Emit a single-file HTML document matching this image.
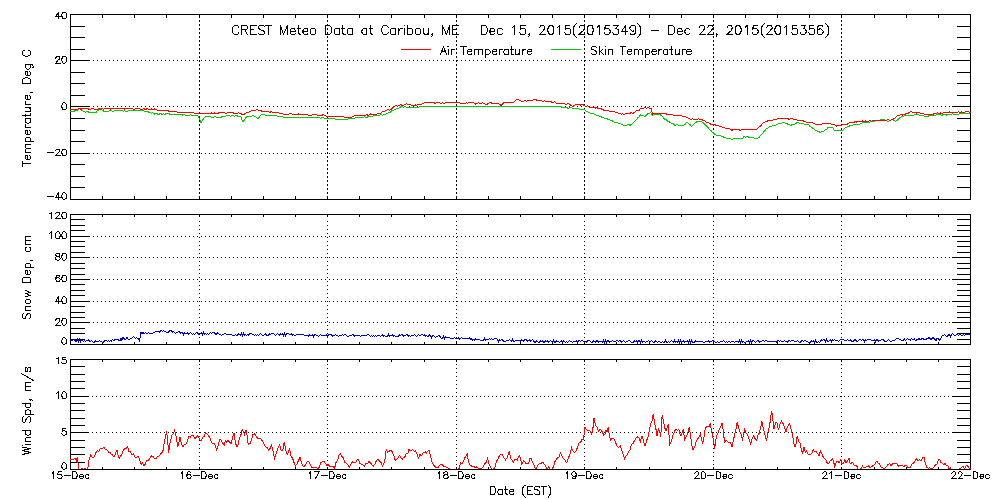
<!DOCTYPE html><html><head><meta charset="utf-8"><style>html,body{margin:0;padding:0;background:#fff;width:1000px;height:500px;overflow:hidden}svg{display:block}</style></head><body>
<svg width="1000" height="500" viewBox="0 0 1000 500" shape-rendering="crispEdges">
<rect x="0" y="0" width="1000" height="500" fill="#fff"/>
<path d="M93.0 153.5 H951.0" stroke="#000" stroke-width="1" fill="none" stroke-dasharray="1 3"/>
<path d="M93.0 106.5 H951.0" stroke="#000" stroke-width="1" fill="none" stroke-dasharray="1 3"/>
<path d="M93.0 60.5 H951.0" stroke="#000" stroke-width="1" fill="none" stroke-dasharray="1 3"/>
<path d="M199.5 20 V196" stroke="#000" stroke-width="1" fill="none" stroke-dasharray="2 2"/>
<path d="M327.5 20 V196" stroke="#000" stroke-width="1" fill="none" stroke-dasharray="2 2"/>
<path d="M456.5 20 V196" stroke="#000" stroke-width="1" fill="none" stroke-dasharray="2 2"/>
<path d="M584.5 20 V196" stroke="#000" stroke-width="1" fill="none" stroke-dasharray="2 2"/>
<path d="M713.5 20 V196" stroke="#000" stroke-width="1" fill="none" stroke-dasharray="2 2"/>
<path d="M841.5 20 V196" stroke="#000" stroke-width="1" fill="none" stroke-dasharray="2 2"/>
<path d="M93.0 322.5 H951.0" stroke="#000" stroke-width="1" fill="none" stroke-dasharray="1 3"/>
<path d="M93.0 301.5 H951.0" stroke="#000" stroke-width="1" fill="none" stroke-dasharray="1 3"/>
<path d="M93.0 279.5 H951.0" stroke="#000" stroke-width="1" fill="none" stroke-dasharray="1 3"/>
<path d="M93.0 257.5 H951.0" stroke="#000" stroke-width="1" fill="none" stroke-dasharray="1 3"/>
<path d="M93.0 236.5 H951.0" stroke="#000" stroke-width="1" fill="none" stroke-dasharray="1 3"/>
<path d="M199.5 221 V342" stroke="#000" stroke-width="1" fill="none" stroke-dasharray="1 3"/>
<path d="M327.5 221 V342" stroke="#000" stroke-width="1" fill="none" stroke-dasharray="1 3"/>
<path d="M456.5 221 V342" stroke="#000" stroke-width="1" fill="none" stroke-dasharray="1 3"/>
<path d="M584.5 221 V342" stroke="#000" stroke-width="1" fill="none" stroke-dasharray="1 3"/>
<path d="M713.5 221 V342" stroke="#000" stroke-width="1" fill="none" stroke-dasharray="1 3"/>
<path d="M841.5 221 V342" stroke="#000" stroke-width="1" fill="none" stroke-dasharray="1 3"/>
<path d="M92.0 432.5 H951.0" stroke="#000" stroke-width="1" fill="none" stroke-dasharray="1 3"/>
<path d="M92.0 396.5 H951.0" stroke="#000" stroke-width="1" fill="none" stroke-dasharray="1 3"/>
<path d="M199.5 364 V467" stroke="#000" stroke-width="1" fill="none" stroke-dasharray="1 3"/>
<path d="M327.5 364 V467" stroke="#000" stroke-width="1" fill="none" stroke-dasharray="1 3"/>
<path d="M456.5 364 V467" stroke="#000" stroke-width="1" fill="none" stroke-dasharray="1 3"/>
<path d="M584.5 364 V467" stroke="#000" stroke-width="1" fill="none" stroke-dasharray="1 3"/>
<path d="M713.5 364 V467" stroke="#000" stroke-width="1" fill="none" stroke-dasharray="1 3"/>
<path d="M841.5 364 V467" stroke="#000" stroke-width="1" fill="none" stroke-dasharray="1 3"/>
<path d="M47.50 196.50 L53.50 196.50 M58.50 192.50 L55.50 197.50 L60.50 197.50 M58.50 192.50 L58.50 199.50 M63.50 192.50 L62.50 193.50 L62.50 194.50 L61.50 195.50 L61.50 196.50 L62.50 198.50 L63.50 199.50 L64.50 199.50 L65.50 198.50 L66.50 198.50 L66.50 196.50 L66.50 195.50 L66.50 194.50 L65.50 193.50 L64.50 192.50 L63.50 192.50 M47.50 152.50 L53.50 152.50 M55.50 150.50 L56.50 149.50 L57.50 149.50 L58.50 149.50 L59.50 149.50 L59.50 150.50 L59.50 151.50 L58.50 152.50 L55.50 155.50 L60.50 155.50 M63.50 149.50 L62.50 149.50 L62.50 150.50 L61.50 151.50 L61.50 152.50 L62.50 154.50 L62.50 155.50 L63.50 155.50 L64.50 155.50 L65.50 155.50 L66.50 154.50 L66.50 152.50 L66.50 151.50 L66.50 150.50 L65.50 149.50 L64.50 149.50 L63.50 149.50 M63.50 102.50 L62.50 103.50 L62.50 104.50 L61.50 105.50 L61.50 106.50 L62.50 108.50 L62.50 109.50 L63.50 109.50 L64.50 109.50 L65.50 109.50 L66.50 108.50 L66.50 106.50 L66.50 105.50 L66.50 104.50 L65.50 103.50 L64.50 102.50 L63.50 102.50 M55.50 58.50 L55.50 57.50 L56.50 57.50 L56.50 56.50 L57.50 56.50 L58.50 56.50 L59.50 56.50 L59.50 57.50 L59.50 58.50 L59.50 59.50 L58.50 59.50 L55.50 63.50 L60.50 63.50 M63.50 56.50 L62.50 56.50 L62.50 57.50 L61.50 59.50 L61.50 60.50 L62.50 61.50 L62.50 62.50 L63.50 63.50 L64.50 63.50 L65.50 62.50 L66.50 61.50 L66.50 60.50 L66.50 59.50 L66.50 57.50 L65.50 56.50 L64.50 56.50 L63.50 56.50 M58.50 12.50 L55.50 16.50 L60.50 16.50 M58.50 12.50 L58.50 18.50 M63.50 12.50 L62.50 12.50 L62.50 13.50 L61.50 14.50 L61.50 15.50 L62.50 17.50 L62.50 18.50 L63.50 18.50 L64.50 18.50 L65.50 18.50 L66.50 17.50 L66.50 15.50 L66.50 14.50 L66.50 13.50 L65.50 12.50 L64.50 12.50 L63.50 12.50 M63.50 337.50 L62.50 338.50 L62.50 339.50 L61.50 340.50 L61.50 341.50 L62.50 343.50 L63.50 344.50 L64.50 344.50 L65.50 343.50 L66.50 343.50 L66.50 341.50 L66.50 340.50 L66.50 339.50 L65.50 338.50 L64.50 337.50 L63.50 337.50 M55.50 320.50 L55.50 319.50 L56.50 319.50 L56.50 318.50 L57.50 318.50 L58.50 318.50 L59.50 318.50 L59.50 319.50 L59.50 320.50 L59.50 321.50 L58.50 322.50 L55.50 325.50 L60.50 325.50 M63.50 318.50 L62.50 318.50 L62.50 319.50 L61.50 321.50 L61.50 322.50 L62.50 323.50 L62.50 324.50 L63.50 325.50 L64.50 325.50 L65.50 324.50 L66.50 323.50 L66.50 322.50 L66.50 321.50 L66.50 319.50 L65.50 318.50 L64.50 318.50 L63.50 318.50 M58.50 296.50 L55.50 301.50 L60.50 301.50 M58.50 296.50 L58.50 303.50 M63.50 296.50 L62.50 297.50 L62.50 298.50 L61.50 299.50 L61.50 300.50 L62.50 302.50 L62.50 303.50 L63.50 303.50 L64.50 303.50 L65.50 303.50 L66.50 302.50 L66.50 300.50 L66.50 299.50 L66.50 298.50 L65.50 297.50 L64.50 296.50 L63.50 296.50 M59.50 276.50 L59.50 275.50 L58.50 275.50 L57.50 275.50 L56.50 275.50 L56.50 276.50 L55.50 278.50 L55.50 279.50 L56.50 280.50 L56.50 281.50 L57.50 281.50 L58.50 281.50 L59.50 281.50 L59.50 280.50 L60.50 279.50 L59.50 278.50 L58.50 277.50 L57.50 277.50 L56.50 278.50 L55.50 279.50 M63.50 275.50 L62.50 275.50 L62.50 276.50 L61.50 278.50 L61.50 279.50 L62.50 280.50 L62.50 281.50 L63.50 281.50 L64.50 281.50 L65.50 281.50 L66.50 280.50 L66.50 279.50 L66.50 278.50 L66.50 276.50 L65.50 275.50 L64.50 275.50 L63.50 275.50 M57.50 253.50 L56.50 253.50 L55.50 254.50 L55.50 255.50 L56.50 255.50 L56.50 256.50 L58.50 256.50 L59.50 256.50 L59.50 257.50 L60.50 258.50 L59.50 259.50 L58.50 260.50 L57.50 260.50 L56.50 259.50 L55.50 259.50 L55.50 258.50 L55.50 257.50 L56.50 256.50 L57.50 256.50 L58.50 256.50 L59.50 255.50 L59.50 254.50 L59.50 253.50 L58.50 253.50 L57.50 253.50 M63.50 253.50 L62.50 253.50 L62.50 254.50 L61.50 256.50 L61.50 257.50 L62.50 258.50 L62.50 259.50 L63.50 260.50 L64.50 260.50 L65.50 259.50 L66.50 258.50 L66.50 257.50 L66.50 256.50 L66.50 254.50 L65.50 253.50 L64.50 253.50 L63.50 253.50 M49.50 233.50 L50.50 232.50 L51.50 231.50 L51.50 238.50 M57.50 231.50 L56.50 232.50 L55.50 233.50 L55.50 234.50 L55.50 235.50 L55.50 237.50 L56.50 238.50 L57.50 238.50 L58.50 238.50 L59.50 238.50 L59.50 237.50 L60.50 235.50 L60.50 234.50 L59.50 233.50 L59.50 232.50 L58.50 231.50 L57.50 231.50 M63.50 231.50 L62.50 232.50 L62.50 233.50 L61.50 234.50 L61.50 235.50 L62.50 237.50 L62.50 238.50 L63.50 238.50 L64.50 238.50 L65.50 238.50 L66.50 237.50 L66.50 235.50 L66.50 234.50 L66.50 233.50 L65.50 232.50 L64.50 231.50 L63.50 231.50 M49.50 213.50 L50.50 213.50 L51.50 212.50 L51.50 218.50 M55.50 213.50 L56.50 212.50 L57.50 212.50 L58.50 212.50 L59.50 212.50 L59.50 213.50 L59.50 214.50 L58.50 215.50 L55.50 218.50 L60.50 218.50 M63.50 212.50 L62.50 212.50 L62.50 213.50 L61.50 214.50 L61.50 215.50 L62.50 217.50 L62.50 218.50 L63.50 218.50 L64.50 218.50 L65.50 218.50 L66.50 217.50 L66.50 215.50 L66.50 214.50 L66.50 213.50 L65.50 212.50 L64.50 212.50 L63.50 212.50 M63.50 462.50 L62.50 463.50 L62.50 464.50 L61.50 465.50 L61.50 466.50 L62.50 468.50 L63.50 469.50 L64.50 469.50 L65.50 468.50 L66.50 468.50 L66.50 466.50 L66.50 465.50 L66.50 464.50 L65.50 463.50 L64.50 462.50 L63.50 462.50 M65.50 428.50 L62.50 428.50 L62.50 431.50 L63.50 430.50 L64.50 430.50 L65.50 431.50 L66.50 431.50 L66.50 432.50 L66.50 433.50 L66.50 434.50 L65.50 434.50 L64.50 435.50 L63.50 435.50 L62.50 434.50 L61.50 433.50 M56.50 393.50 L57.50 392.50 L58.50 391.50 L58.50 398.50 M63.50 391.50 L62.50 392.50 L62.50 393.50 L61.50 394.50 L61.50 395.50 L62.50 397.50 L62.50 398.50 L63.50 398.50 L64.50 398.50 L65.50 398.50 L66.50 397.50 L66.50 395.50 L66.50 394.50 L66.50 393.50 L65.50 392.50 L64.50 391.50 L63.50 391.50 M56.50 358.50 L57.50 358.50 L58.50 357.50 L58.50 363.50 M65.50 357.50 L62.50 357.50 L62.50 359.50 L63.50 359.50 L64.50 359.50 L65.50 359.50 L66.50 360.50 L66.50 361.50 L66.50 362.50 L65.50 363.50 L64.50 363.50 L63.50 363.50 L62.50 363.50 L61.50 362.50 M52.50 473.50 L52.50 472.50 L53.50 471.50 L53.50 478.50 M61.50 471.50 L58.50 471.50 L57.50 474.50 L58.50 474.50 L59.50 474.50 L60.50 474.50 L61.50 474.50 L61.50 475.50 L62.50 476.50 L61.50 477.50 L61.50 478.50 L60.50 478.50 L59.50 478.50 L58.50 478.50 L57.50 477.50 M64.50 475.50 L70.50 475.50 M72.50 471.50 L72.50 478.50 M72.50 471.50 L75.50 471.50 L76.50 472.50 L76.50 473.50 L77.50 474.50 L77.50 476.50 L76.50 476.50 L76.50 477.50 L76.50 478.50 L75.50 478.50 L72.50 478.50 M79.50 476.50 L83.50 476.50 L83.50 475.50 L82.50 474.50 L81.50 474.50 L80.50 474.50 L79.50 475.50 L79.50 476.50 L79.50 477.50 L80.50 478.50 L81.50 478.50 L82.50 478.50 L83.50 477.50 M88.50 475.50 L88.50 474.50 L87.50 474.50 L86.50 474.50 L85.50 475.50 L85.50 476.50 L85.50 477.50 L86.50 478.50 L87.50 478.50 L88.50 478.50 L88.50 477.50 M181.50 473.50 L181.50 472.50 L182.50 471.50 L182.50 478.50 M190.50 472.50 L189.50 471.50 L188.50 471.50 L187.50 472.50 L187.50 473.50 L186.50 474.50 L186.50 476.50 L187.50 477.50 L187.50 478.50 L188.50 478.50 L189.50 478.50 L190.50 478.50 L190.50 477.50 L191.50 476.50 L190.50 475.50 L190.50 474.50 L189.50 474.50 L188.50 474.50 L187.50 474.50 L187.50 475.50 L186.50 476.50 M193.50 475.50 L199.50 475.50 M201.50 471.50 L201.50 478.50 M201.50 471.50 L204.50 471.50 L205.50 472.50 L205.50 473.50 L206.50 474.50 L206.50 476.50 L205.50 476.50 L205.50 477.50 L205.50 478.50 L204.50 478.50 L201.50 478.50 M208.50 476.50 L212.50 476.50 L212.50 475.50 L211.50 474.50 L210.50 474.50 L209.50 474.50 L208.50 475.50 L208.50 476.50 L208.50 477.50 L209.50 478.50 L210.50 478.50 L211.50 478.50 L212.50 477.50 M217.50 475.50 L217.50 474.50 L216.50 474.50 L215.50 474.50 L214.50 475.50 L214.50 476.50 L214.50 477.50 L215.50 478.50 L216.50 478.50 L217.50 478.50 L217.50 477.50 M309.50 473.50 L309.50 472.50 L310.50 471.50 L310.50 478.50 M319.50 471.50 L315.50 478.50 M314.50 471.50 L319.50 471.50 M321.50 475.50 L327.50 475.50 M329.50 471.50 L329.50 478.50 M329.50 471.50 L332.50 471.50 L333.50 472.50 L333.50 473.50 L334.50 474.50 L334.50 476.50 L333.50 476.50 L333.50 477.50 L333.50 478.50 L332.50 478.50 L329.50 478.50 M336.50 476.50 L340.50 476.50 L340.50 475.50 L339.50 474.50 L338.50 474.50 L337.50 474.50 L336.50 475.50 L336.50 476.50 L336.50 477.50 L337.50 478.50 L338.50 478.50 L339.50 478.50 L340.50 477.50 M345.50 475.50 L345.50 474.50 L344.50 474.50 L343.50 474.50 L342.50 475.50 L342.50 476.50 L342.50 477.50 L343.50 478.50 L344.50 478.50 L345.50 478.50 L345.50 477.50 M438.50 473.50 L438.50 472.50 L439.50 471.50 L439.50 478.50 M445.50 471.50 L444.50 472.50 L443.50 472.50 L443.50 473.50 L444.50 474.50 L446.50 474.50 L447.50 475.50 L448.50 476.50 L448.50 477.50 L447.50 477.50 L447.50 478.50 L446.50 478.50 L445.50 478.50 L444.50 478.50 L443.50 477.50 L443.50 476.50 L443.50 475.50 L444.50 475.50 L445.50 474.50 L446.50 474.50 L447.50 474.50 L447.50 473.50 L447.50 472.50 L446.50 471.50 L445.50 471.50 M450.50 475.50 L456.50 475.50 M458.50 471.50 L458.50 478.50 M458.50 471.50 L461.50 471.50 L462.50 472.50 L462.50 473.50 L463.50 474.50 L463.50 476.50 L462.50 476.50 L462.50 477.50 L462.50 478.50 L461.50 478.50 L458.50 478.50 M465.50 476.50 L469.50 476.50 L469.50 475.50 L468.50 474.50 L467.50 474.50 L466.50 474.50 L465.50 475.50 L465.50 476.50 L465.50 477.50 L466.50 478.50 L467.50 478.50 L468.50 478.50 L469.50 477.50 M474.50 475.50 L474.50 474.50 L473.50 474.50 L472.50 474.50 L471.50 475.50 L471.50 476.50 L471.50 477.50 L472.50 478.50 L473.50 478.50 L474.50 478.50 L474.50 477.50 M566.50 473.50 L566.50 472.50 L567.50 471.50 L567.50 478.50 M576.50 474.50 L575.50 475.50 L574.50 476.50 L573.50 476.50 L572.50 475.50 L571.50 474.50 L571.50 473.50 L572.50 472.50 L573.50 471.50 L574.50 471.50 L575.50 472.50 L576.50 474.50 L576.50 475.50 L575.50 477.50 L575.50 478.50 L574.50 478.50 L573.50 478.50 L572.50 478.50 L572.50 477.50 M578.50 475.50 L584.50 475.50 M586.50 471.50 L586.50 478.50 M586.50 471.50 L589.50 471.50 L590.50 472.50 L590.50 473.50 L591.50 474.50 L591.50 476.50 L590.50 476.50 L590.50 477.50 L590.50 478.50 L589.50 478.50 L586.50 478.50 M593.50 476.50 L597.50 476.50 L597.50 475.50 L596.50 474.50 L595.50 474.50 L594.50 474.50 L593.50 475.50 L593.50 476.50 L593.50 477.50 L594.50 478.50 L595.50 478.50 L596.50 478.50 L597.50 477.50 M602.50 475.50 L602.50 474.50 L601.50 474.50 L600.50 474.50 L599.50 475.50 L599.50 476.50 L599.50 477.50 L600.50 478.50 L601.50 478.50 L602.50 478.50 L602.50 477.50 M694.50 473.50 L695.50 472.50 L696.50 471.50 L697.50 471.50 L698.50 472.50 L698.50 473.50 L698.50 474.50 L697.50 475.50 L694.50 478.50 L699.50 478.50 M702.50 471.50 L701.50 472.50 L701.50 473.50 L701.50 474.50 L701.50 475.50 L701.50 477.50 L701.50 478.50 L702.50 478.50 L703.50 478.50 L704.50 478.50 L705.50 477.50 L705.50 475.50 L705.50 474.50 L705.50 473.50 L704.50 472.50 L703.50 471.50 L702.50 471.50 M707.50 475.50 L713.50 475.50 M716.50 471.50 L716.50 478.50 M716.50 471.50 L718.50 471.50 L719.50 472.50 L720.50 472.50 L720.50 473.50 L720.50 474.50 L720.50 476.50 L720.50 477.50 L719.50 478.50 L718.50 478.50 L716.50 478.50 M722.50 476.50 L726.50 476.50 L726.50 475.50 L726.50 474.50 L725.50 474.50 L724.50 474.50 L723.50 474.50 L723.50 475.50 L722.50 476.50 L723.50 477.50 L723.50 478.50 L724.50 478.50 L725.50 478.50 L726.50 477.50 M732.50 475.50 L731.50 474.50 L730.50 474.50 L729.50 474.50 L728.50 475.50 L728.50 476.50 L728.50 477.50 L729.50 478.50 L730.50 478.50 L731.50 478.50 L732.50 477.50 M822.50 473.50 L823.50 472.50 L824.50 471.50 L825.50 471.50 L826.50 472.50 L826.50 473.50 L826.50 474.50 L825.50 475.50 L822.50 478.50 L827.50 478.50 M829.50 473.50 L830.50 472.50 L831.50 471.50 L831.50 478.50 M835.50 475.50 L841.50 475.50 M844.50 471.50 L844.50 478.50 M844.50 471.50 L846.50 471.50 L847.50 472.50 L848.50 472.50 L848.50 473.50 L848.50 474.50 L848.50 476.50 L848.50 477.50 L847.50 478.50 L846.50 478.50 L844.50 478.50 M850.50 476.50 L854.50 476.50 L854.50 475.50 L854.50 474.50 L853.50 474.50 L852.50 474.50 L851.50 474.50 L851.50 475.50 L850.50 476.50 L851.50 477.50 L851.50 478.50 L852.50 478.50 L853.50 478.50 L854.50 477.50 M860.50 475.50 L859.50 474.50 L858.50 474.50 L857.50 474.50 L856.50 475.50 L856.50 476.50 L856.50 477.50 L857.50 478.50 L858.50 478.50 L859.50 478.50 L860.50 477.50 M951.50 473.50 L952.50 472.50 L953.50 471.50 L954.50 471.50 L955.50 472.50 L955.50 473.50 L955.50 474.50 L954.50 475.50 L951.50 478.50 L956.50 478.50 M958.50 473.50 L958.50 472.50 L959.50 471.50 L960.50 471.50 L961.50 472.50 L962.50 473.50 L961.50 474.50 L961.50 475.50 L958.50 478.50 L962.50 478.50 M964.50 475.50 L970.50 475.50 M973.50 471.50 L973.50 478.50 M973.50 471.50 L975.50 471.50 L976.50 472.50 L977.50 472.50 L977.50 473.50 L977.50 474.50 L977.50 476.50 L977.50 477.50 L976.50 478.50 L975.50 478.50 L973.50 478.50 M979.50 476.50 L983.50 476.50 L983.50 475.50 L983.50 474.50 L982.50 474.50 L981.50 474.50 L980.50 474.50 L980.50 475.50 L979.50 476.50 L980.50 477.50 L980.50 478.50 L981.50 478.50 L982.50 478.50 L983.50 477.50 M989.50 475.50 L988.50 474.50 L987.50 474.50 L986.50 474.50 L985.50 475.50 L985.50 476.50 L985.50 477.50 L986.50 478.50 L987.50 478.50 L988.50 478.50 L989.50 477.50 M238.50 27.50 L238.50 26.50 L237.50 25.50 L236.50 25.50 L235.50 25.50 L234.50 25.50 L233.50 26.50 L232.50 27.50 L232.50 28.50 L232.50 31.50 L232.50 32.50 L233.50 33.50 L234.50 34.50 L235.50 34.50 L236.50 34.50 L237.50 34.50 L238.50 33.50 L238.50 32.50 M241.50 25.50 L241.50 34.50 M241.50 25.50 L245.50 25.50 L246.50 25.50 L247.50 26.50 L247.50 27.50 L247.50 28.50 L246.50 29.50 L245.50 29.50 L241.50 29.50 M244.50 29.50 L247.50 34.50 M250.50 25.50 L250.50 34.50 M250.50 25.50 L256.50 25.50 M250.50 29.50 L253.50 29.50 M250.50 34.50 L256.50 34.50 M264.50 26.50 L263.50 25.50 L262.50 25.50 L260.50 25.50 L259.50 25.50 L258.50 26.50 L258.50 27.50 L258.50 28.50 L259.50 28.50 L259.50 29.50 L262.50 30.50 L263.50 30.50 L263.50 31.50 L264.50 31.50 L264.50 33.50 L263.50 34.50 L262.50 34.50 L260.50 34.50 L259.50 34.50 L258.50 33.50 M268.50 25.50 L268.50 34.50 M265.50 25.50 L271.50 25.50 M280.50 25.50 L280.50 34.50 M280.50 25.50 L283.50 34.50 M287.50 25.50 L283.50 34.50 M287.50 25.50 L287.50 34.50 M290.50 31.50 L295.50 31.50 L295.50 30.50 L294.50 29.50 L294.50 28.50 L293.50 28.50 L292.50 28.50 L291.50 28.50 L290.50 29.50 L290.50 31.50 L290.50 33.50 L291.50 34.50 L292.50 34.50 L293.50 34.50 L294.50 34.50 L295.50 33.50 M298.50 25.50 L298.50 32.50 L299.50 34.50 L300.50 34.50 M297.50 28.50 L300.50 28.50 M302.50 31.50 L307.50 31.50 L307.50 30.50 L307.50 29.50 L307.50 28.50 L306.50 28.50 L304.50 28.50 L303.50 29.50 L302.50 31.50 L303.50 33.50 L304.50 34.50 L306.50 34.50 L307.50 34.50 L307.50 33.50 M312.50 28.50 L311.50 28.50 L310.50 29.50 L310.50 31.50 L310.50 33.50 L311.50 34.50 L312.50 34.50 L313.50 34.50 L314.50 34.50 L315.50 33.50 L315.50 31.50 L315.50 29.50 L314.50 28.50 L313.50 28.50 L312.50 28.50 M325.50 25.50 L325.50 34.50 M325.50 25.50 L328.50 25.50 L329.50 25.50 L330.50 26.50 L331.50 27.50 L331.50 28.50 L331.50 31.50 L331.50 32.50 L330.50 33.50 L329.50 34.50 L328.50 34.50 L325.50 34.50 M339.50 28.50 L339.50 34.50 M339.50 29.50 L338.50 28.50 L337.50 28.50 L336.50 28.50 L335.50 28.50 L334.50 29.50 L334.50 31.50 L334.50 33.50 L335.50 34.50 L336.50 34.50 L337.50 34.50 L338.50 34.50 L339.50 33.50 M342.50 25.50 L342.50 32.50 L343.50 34.50 L344.50 34.50 L345.50 34.50 M341.50 28.50 L344.50 28.50 M352.50 28.50 L352.50 34.50 M352.50 29.50 L351.50 28.50 L350.50 28.50 L349.50 28.50 L348.50 28.50 L347.50 29.50 L347.50 31.50 L347.50 33.50 L348.50 34.50 L349.50 34.50 L350.50 34.50 L351.50 34.50 L352.50 33.50 M366.50 28.50 L366.50 34.50 M366.50 29.50 L366.50 28.50 L365.50 28.50 L364.50 28.50 L363.50 28.50 L362.50 29.50 L361.50 31.50 L362.50 33.50 L363.50 34.50 L364.50 34.50 L365.50 34.50 L366.50 34.50 L366.50 33.50 M370.50 25.50 L370.50 32.50 L371.50 34.50 L372.50 34.50 M369.50 28.50 L372.50 28.50 M388.50 27.50 L387.50 26.50 L386.50 25.50 L385.50 25.50 L384.50 25.50 L383.50 25.50 L382.50 26.50 L382.50 27.50 L381.50 28.50 L381.50 31.50 L382.50 32.50 L382.50 33.50 L383.50 34.50 L384.50 34.50 L385.50 34.50 L386.50 34.50 L387.50 33.50 L388.50 32.50 M395.50 28.50 L395.50 34.50 M395.50 29.50 L394.50 28.50 L393.50 28.50 L392.50 28.50 L391.50 28.50 L390.50 29.50 L390.50 31.50 L390.50 33.50 L391.50 34.50 L392.50 34.50 L393.50 34.50 L394.50 34.50 L395.50 33.50 M398.50 28.50 L398.50 34.50 M398.50 31.50 L399.50 29.50 L400.50 28.50 L401.50 28.50 L402.50 28.50 M404.50 25.50 L404.51 25.50 M404.50 28.50 L404.50 34.50 M407.50 25.50 L407.50 34.50 M407.50 29.50 L408.50 28.50 L409.50 28.50 L410.50 28.50 L411.50 28.50 L412.50 29.50 L412.50 31.50 L412.50 33.50 L411.50 34.50 L410.50 34.50 L409.50 34.50 L408.50 34.50 L407.50 33.50 M417.50 28.50 L416.50 28.50 L415.50 29.50 L415.50 31.50 L415.50 33.50 L416.50 34.50 L417.50 34.50 L418.50 34.50 L419.50 34.50 L420.50 33.50 L420.50 31.50 L420.50 29.50 L419.50 28.50 L418.50 28.50 L417.50 28.50 M423.50 28.50 L423.50 32.50 L424.50 34.50 L425.50 34.50 L426.50 34.50 L427.50 34.50 L428.50 32.50 M428.50 28.50 L428.50 34.50 M432.50 34.50 L431.50 34.50 L432.50 33.50 L432.50 34.50 L432.50 35.50 L431.50 36.50 M442.50 25.50 L442.50 34.50 M442.50 25.50 L446.50 34.50 M449.50 25.50 L446.50 34.50 M449.50 25.50 L449.50 34.50 M452.50 25.50 L452.50 34.50 M452.50 25.50 L458.50 25.50 M452.50 29.50 L456.50 29.50 M452.50 34.50 L458.50 34.50 M481.50 25.50 L481.50 34.50 M481.50 25.50 L484.50 25.50 L485.50 25.50 L486.50 26.50 L486.50 27.50 L487.50 28.50 L487.50 31.50 L486.50 32.50 L486.50 33.50 L485.50 34.50 L484.50 34.50 L481.50 34.50 M489.50 31.50 L494.50 31.50 L494.50 30.50 L494.50 29.50 L493.50 28.50 L492.50 28.50 L491.50 28.50 L490.50 28.50 L490.50 29.50 L489.50 31.50 L490.50 33.50 L490.50 34.50 L491.50 34.50 L492.50 34.50 L493.50 34.50 L494.50 33.50 M502.50 29.50 L501.50 28.50 L500.50 28.50 L499.50 28.50 L498.50 28.50 L497.50 29.50 L497.50 31.50 L497.50 33.50 L498.50 34.50 L499.50 34.50 L500.50 34.50 L501.50 34.50 L502.50 33.50 M512.50 27.50 L513.50 26.50 L514.50 25.50 L514.50 34.50 M525.50 25.50 L520.50 25.50 L520.50 29.50 L520.50 28.50 L522.50 28.50 L523.50 28.50 L524.50 28.50 L525.50 29.50 L525.50 31.50 L525.50 33.50 L524.50 34.50 L523.50 34.50 L522.50 34.50 L520.50 34.50 L520.50 33.50 L519.50 32.50 M529.50 34.50 L528.50 34.50 L529.50 33.50 L529.50 34.50 L529.50 35.50 L528.50 36.50 M539.50 27.50 L540.50 26.50 L540.50 25.50 L541.50 25.50 L543.50 25.50 L544.50 26.50 L544.50 27.50 L544.50 28.50 L543.50 30.50 L539.50 34.50 L545.50 34.50 M550.50 25.50 L549.50 25.50 L548.50 27.50 L547.50 29.50 L547.50 30.50 L548.50 32.50 L549.50 34.50 L550.50 34.50 L551.50 34.50 L552.50 34.50 L553.50 32.50 L553.50 30.50 L553.50 29.50 L553.50 27.50 L552.50 25.50 L551.50 25.50 L550.50 25.50 M557.50 27.50 L558.50 26.50 L559.50 25.50 L559.50 34.50 M569.50 25.50 L565.50 25.50 L565.50 29.50 L565.50 28.50 L566.50 28.50 L568.50 28.50 L569.50 28.50 L570.50 29.50 L570.50 31.50 L570.50 33.50 L569.50 34.50 L568.50 34.50 L566.50 34.50 L565.50 34.50 L565.50 33.50 L564.50 32.50 M576.50 23.50 L575.50 24.50 L574.50 25.50 L573.50 27.50 L573.50 29.50 L573.50 31.50 L573.50 33.50 L574.50 35.50 L575.50 36.50 L576.50 37.50 M579.50 27.50 L579.50 26.50 L580.50 25.50 L581.50 25.50 L582.50 25.50 L583.50 25.50 L584.50 26.50 L584.50 27.50 L584.50 28.50 L583.50 30.50 L578.50 34.50 L584.50 34.50 M589.50 25.50 L588.50 25.50 L587.50 27.50 L587.50 29.50 L587.50 30.50 L587.50 32.50 L588.50 34.50 L589.50 34.50 L590.50 34.50 L592.50 34.50 L592.50 32.50 L593.50 30.50 L593.50 29.50 L592.50 27.50 L592.50 25.50 L590.50 25.50 L589.50 25.50 M597.50 27.50 L597.50 26.50 L599.50 25.50 L599.50 34.50 M609.50 25.50 L605.50 25.50 L604.50 29.50 L605.50 28.50 L606.50 28.50 L607.50 28.50 L608.50 28.50 L609.50 29.50 L610.50 31.50 L609.50 33.50 L608.50 34.50 L607.50 34.50 L606.50 34.50 L605.50 34.50 L604.50 33.50 L604.50 32.50 M613.50 25.50 L618.50 25.50 L615.50 28.50 L616.50 28.50 L617.50 29.50 L618.50 29.50 L618.50 31.50 L618.50 33.50 L617.50 34.50 L616.50 34.50 L614.50 34.50 L613.50 34.50 L613.50 33.50 L612.50 32.50 M625.50 25.50 L621.50 31.50 L627.50 31.50 M625.50 25.50 L625.50 34.50 M635.50 28.50 L635.50 29.50 L634.50 30.50 L632.50 31.50 L631.50 30.50 L630.50 29.50 L629.50 28.50 L630.50 26.50 L631.50 25.50 L632.50 25.50 L634.50 25.50 L635.50 26.50 L635.50 28.50 L635.50 30.50 L635.50 32.50 L634.50 34.50 L632.50 34.50 L630.50 34.50 L630.50 33.50 M637.50 23.50 L638.50 24.50 L639.50 25.50 L640.50 27.50 L640.50 29.50 L640.50 31.50 L640.50 33.50 L639.50 35.50 L638.50 36.50 L637.50 37.50 M651.50 30.50 L658.50 30.50 M668.50 25.50 L668.50 34.50 M668.50 25.50 L671.50 25.50 L672.50 25.50 L673.50 26.50 L674.50 27.50 L674.50 28.50 L674.50 31.50 L674.50 32.50 L673.50 33.50 L672.50 34.50 L671.50 34.50 L668.50 34.50 M677.50 31.50 L682.50 31.50 L682.50 30.50 L681.50 29.50 L681.50 28.50 L680.50 28.50 L679.50 28.50 L678.50 28.50 L677.50 29.50 L677.50 31.50 L677.50 33.50 L678.50 34.50 L679.50 34.50 L680.50 34.50 L681.50 34.50 L682.50 33.50 M689.50 29.50 L688.50 28.50 L686.50 28.50 L685.50 29.50 L684.50 31.50 L685.50 33.50 L686.50 34.50 L688.50 34.50 L689.50 33.50 M699.50 27.50 L699.50 26.50 L700.50 25.50 L701.50 25.50 L702.50 25.50 L703.50 25.50 L704.50 26.50 L704.50 27.50 L704.50 28.50 L703.50 30.50 L699.50 34.50 L705.50 34.50 M707.50 27.50 L708.50 26.50 L708.50 25.50 L709.50 25.50 L711.50 25.50 L712.50 25.50 L712.50 26.50 L713.50 27.50 L713.50 28.50 L712.50 28.50 L711.50 30.50 L707.50 34.50 L713.50 34.50 M717.50 34.50 L716.50 34.50 L716.50 33.50 L717.50 34.50 L716.50 35.50 L716.50 36.50 M727.50 27.50 L727.50 26.50 L728.50 25.50 L729.50 25.50 L730.50 25.50 L731.50 25.50 L731.50 26.50 L732.50 27.50 L732.50 28.50 L731.50 28.50 L731.50 30.50 L726.50 34.50 L732.50 34.50 M737.50 25.50 L736.50 25.50 L735.50 27.50 L735.50 29.50 L735.50 30.50 L735.50 32.50 L736.50 34.50 L737.50 34.50 L738.50 34.50 L739.50 34.50 L740.50 32.50 L741.50 30.50 L741.50 29.50 L740.50 27.50 L739.50 25.50 L738.50 25.50 L737.50 25.50 M745.50 27.50 L745.50 26.50 L747.50 25.50 L747.50 34.50 M757.50 25.50 L753.50 25.50 L752.50 29.50 L753.50 28.50 L754.50 28.50 L755.50 28.50 L756.50 28.50 L757.50 29.50 L758.50 31.50 L757.50 33.50 L756.50 34.50 L755.50 34.50 L754.50 34.50 L753.50 34.50 L752.50 33.50 L752.50 32.50 M764.50 23.50 L763.50 24.50 L762.50 25.50 L761.50 27.50 L761.50 29.50 L761.50 31.50 L761.50 33.50 L762.50 35.50 L763.50 36.50 L764.50 37.50 M766.50 27.50 L767.50 26.50 L767.50 25.50 L768.50 25.50 L770.50 25.50 L771.50 25.50 L771.50 26.50 L772.50 27.50 L772.50 28.50 L771.50 28.50 L770.50 30.50 L766.50 34.50 L772.50 34.50 M777.50 25.50 L776.50 25.50 L775.50 27.50 L774.50 29.50 L774.50 30.50 L775.50 32.50 L776.50 34.50 L777.50 34.50 L778.50 34.50 L779.50 34.50 L780.50 32.50 L780.50 30.50 L780.50 29.50 L780.50 27.50 L779.50 25.50 L778.50 25.50 L777.50 25.50 M784.50 27.50 L785.50 26.50 L786.50 25.50 L786.50 34.50 M796.50 25.50 L792.50 25.50 L792.50 29.50 L792.50 28.50 L793.50 28.50 L795.50 28.50 L796.50 28.50 L797.50 29.50 L797.50 31.50 L797.50 33.50 L796.50 34.50 L795.50 34.50 L793.50 34.50 L792.50 34.50 L792.50 33.50 L791.50 32.50 M801.50 25.50 L805.50 25.50 L803.50 28.50 L804.50 28.50 L805.50 29.50 L806.50 31.50 L805.50 33.50 L804.50 34.50 L803.50 34.50 L802.50 34.50 L801.50 34.50 L800.50 33.50 L800.50 32.50 M813.50 25.50 L809.50 25.50 L809.50 29.50 L809.50 28.50 L810.50 28.50 L812.50 28.50 L813.50 28.50 L814.50 29.50 L814.50 31.50 L814.50 33.50 L813.50 34.50 L812.50 34.50 L810.50 34.50 L809.50 34.50 L809.50 33.50 L808.50 32.50 M822.50 26.50 L822.50 25.50 L820.50 25.50 L818.50 25.50 L817.50 27.50 L817.50 29.50 L817.50 31.50 L817.50 33.50 L818.50 34.50 L820.50 34.50 L821.50 34.50 L822.50 33.50 L823.50 31.50 L822.50 30.50 L821.50 29.50 L820.50 28.50 L818.50 29.50 L817.50 30.50 L817.50 31.50 M825.50 23.50 L826.50 24.50 L827.50 25.50 L828.50 27.50 L828.50 29.50 L828.50 31.50 L828.50 33.50 L827.50 35.50 L826.50 36.50 L825.50 37.50 M443.50 46.50 L440.50 54.50 M443.50 46.50 L446.50 54.50 M441.50 51.50 L445.50 51.50 M447.50 46.50 L448.50 46.50 L447.50 46.50 M448.50 49.50 L448.50 54.50 M451.50 49.50 L451.50 54.50 M451.50 51.50 L451.50 50.50 L452.50 49.50 L453.50 49.50 L454.50 49.50 M463.50 46.50 L463.50 54.50 M460.50 46.50 L466.50 46.50 M467.50 51.50 L471.50 51.50 L471.50 50.50 L471.50 49.50 L470.50 49.50 L469.50 49.50 L468.50 49.50 L467.50 50.50 L467.50 51.50 L467.50 52.50 L467.50 53.50 L468.50 54.50 L469.50 54.50 L470.50 54.50 L471.50 54.50 L471.50 53.50 M474.50 49.50 L474.50 54.50 M474.50 50.50 L475.50 49.50 L476.50 49.50 L477.50 49.50 L478.50 49.50 L478.50 50.50 L478.50 54.50 M478.50 50.50 L479.50 49.50 L480.50 49.50 L481.50 49.50 L482.50 49.50 L482.50 50.50 L482.50 54.50 M485.50 49.50 L485.50 57.50 M485.50 50.50 L486.50 49.50 L487.50 49.50 L488.50 49.50 L489.50 50.50 L490.50 51.50 L490.50 52.50 L489.50 53.50 L488.50 54.50 L487.50 54.50 L486.50 54.50 L485.50 53.50 M492.50 51.50 L496.50 51.50 L496.50 50.50 L496.50 49.50 L495.50 49.50 L494.50 49.50 L493.50 49.50 L492.50 50.50 L492.50 51.50 L492.50 52.50 L492.50 53.50 L493.50 54.50 L494.50 54.50 L495.50 54.50 L496.50 54.50 L496.50 53.50 M499.50 49.50 L499.50 54.50 M499.50 51.50 L499.50 50.50 L500.50 49.50 L501.50 49.50 L502.50 49.50 M508.50 49.50 L508.50 54.50 M508.50 50.50 L507.50 49.50 L506.50 49.50 L505.50 49.50 L504.50 49.50 L504.50 50.50 L503.50 51.50 L503.50 52.50 L504.50 53.50 L504.50 54.50 L505.50 54.50 L506.50 54.50 L507.50 54.50 L508.50 53.50 M511.50 46.50 L511.50 52.50 L511.50 54.50 L512.50 54.50 L513.50 54.50 M510.50 49.50 L513.50 49.50 M515.50 49.50 L515.50 52.50 L515.50 54.50 L516.50 54.50 L517.50 54.50 L518.50 54.50 L519.50 52.50 M519.50 49.50 L519.50 54.50 M522.50 49.50 L522.50 54.50 M522.50 51.50 L523.50 50.50 L523.50 49.50 L524.50 49.50 L525.50 49.50 M527.50 51.50 L531.50 51.50 L531.50 50.50 L531.50 49.50 L530.50 49.50 L528.50 49.50 L527.50 50.50 L527.50 51.50 L527.50 52.50 L527.50 53.50 L528.50 54.50 L530.50 54.50 L531.50 53.50 M596.50 47.50 L595.50 46.50 L594.50 46.50 L593.50 46.50 L592.50 46.50 L591.50 47.50 L591.50 48.50 L591.50 49.50 L592.50 49.50 L595.50 50.50 L595.50 51.50 L596.50 51.50 L596.50 52.50 L596.50 53.50 L595.50 54.50 L594.50 54.50 L593.50 54.50 L592.50 54.50 L591.50 53.50 M599.50 46.50 L599.50 54.50 M602.50 49.50 L599.50 52.50 M600.50 51.50 L603.50 54.50 M605.50 46.50 L605.51 46.50 M605.50 49.50 L605.50 54.50 M608.50 49.50 L608.50 54.50 M608.50 50.50 L609.50 49.50 L610.50 49.50 L611.50 49.50 L612.50 49.50 L612.50 50.50 L612.50 54.50 M622.50 46.50 L622.50 54.50 M620.50 46.50 L625.50 46.50 M627.50 51.50 L631.50 51.50 L631.50 50.50 L631.50 49.50 L630.50 49.50 L629.50 49.50 L628.50 49.50 L627.50 50.50 L627.50 51.50 L627.50 52.50 L627.50 53.50 L628.50 54.50 L629.50 54.50 L630.50 54.50 L631.50 53.50 M634.50 49.50 L634.50 54.50 M634.50 50.50 L635.50 49.50 L637.50 49.50 L638.50 50.50 L638.50 54.50 M638.50 50.50 L639.50 49.50 L641.50 49.50 L642.50 50.50 L642.50 54.50 M645.50 49.50 L645.50 57.50 M645.50 50.50 L645.50 49.50 L646.50 49.50 L647.50 49.50 L648.50 49.50 L649.50 50.50 L649.50 51.50 L649.50 52.50 L649.50 53.50 L648.50 54.50 L647.50 54.50 L646.50 54.50 L645.50 54.50 L645.50 53.50 M651.50 51.50 L656.50 51.50 L656.50 50.50 L655.50 49.50 L654.50 49.50 L653.50 49.50 L652.50 49.50 L652.50 50.50 L651.50 51.50 L651.50 52.50 L652.50 53.50 L652.50 54.50 L653.50 54.50 L654.50 54.50 L655.50 54.50 L656.50 53.50 M658.50 49.50 L658.50 54.50 M658.50 51.50 L659.50 50.50 L659.50 49.50 L660.50 49.50 L661.50 49.50 M667.50 49.50 L667.50 54.50 M667.50 50.50 L666.50 49.50 L665.50 49.50 L664.50 49.50 L663.50 50.50 L663.50 51.50 L663.50 52.50 L663.50 53.50 L664.50 54.50 L665.50 54.50 L666.50 54.50 L667.50 53.50 M671.50 46.50 L671.50 52.50 L671.50 54.50 L672.50 54.50 M669.50 49.50 L672.50 49.50 M675.50 49.50 L675.50 52.50 L675.50 54.50 L676.50 54.50 L677.50 54.50 L678.50 54.50 L679.50 52.50 M679.50 49.50 L679.50 54.50 M682.50 49.50 L682.50 54.50 M682.50 51.50 L682.50 50.50 L683.50 49.50 L684.50 49.50 L685.50 49.50 M686.50 51.50 L691.50 51.50 L691.50 50.50 L690.50 49.50 L689.50 49.50 L688.50 49.50 L687.50 49.50 L686.50 50.50 L686.50 51.50 L686.50 52.50 L686.50 53.50 L687.50 54.50 L688.50 54.50 L689.50 54.50 L690.50 54.50 L691.50 53.50 M490.50 486.50 L490.50 494.50 M490.50 486.50 L492.50 486.50 L494.50 486.50 L494.50 487.50 L495.50 488.50 L495.50 489.50 L495.50 491.50 L495.50 492.50 L494.50 493.50 L494.50 494.50 L492.50 494.50 L490.50 494.50 M502.50 489.50 L502.50 494.50 M502.50 490.50 L501.50 489.50 L500.50 489.50 L499.50 489.50 L498.50 489.50 L498.50 490.50 L497.50 491.50 L497.50 492.50 L498.50 493.50 L498.50 494.50 L499.50 494.50 L500.50 494.50 L501.50 494.50 L502.50 493.50 M505.50 486.50 L505.50 492.50 L506.50 494.50 L507.50 494.50 M504.50 489.50 L507.50 489.50 M509.50 491.50 L513.50 491.50 L513.50 490.50 L513.50 489.50 L512.50 489.50 L511.50 489.50 L510.50 489.50 L509.50 490.50 L509.50 491.50 L509.50 492.50 L509.50 493.50 L510.50 494.50 L511.50 494.50 L512.50 494.50 L513.50 494.50 L513.50 493.50 M525.50 485.50 L524.50 485.50 L523.50 486.50 L522.50 488.50 L522.50 490.50 L522.50 491.50 L522.50 493.50 L523.50 495.50 L524.50 496.50 L525.50 497.50 M527.50 486.50 L527.50 494.50 M527.50 486.50 L532.50 486.50 M527.50 490.50 L530.50 490.50 M527.50 494.50 L532.50 494.50 M539.50 487.50 L539.50 486.50 L537.50 486.50 L536.50 486.50 L535.50 486.50 L534.50 487.50 L534.50 488.50 L534.50 489.50 L535.50 489.50 L536.50 489.50 L538.50 490.50 L539.50 491.50 L539.50 492.50 L539.50 493.50 L539.50 494.50 L537.50 494.50 L536.50 494.50 L535.50 494.50 L534.50 493.50 M543.50 486.50 L543.50 494.50 M541.50 486.50 L546.50 486.50 M548.50 485.50 L549.50 486.50 L550.50 488.50 L550.50 490.50 L550.50 491.50 L550.50 493.50 L549.50 495.50 L548.50 496.50 L548.50 497.50 M22.50 163.50 L30.50 163.50 M22.50 166.50 L22.50 161.50 M27.50 159.50 L27.50 155.50 L26.50 155.50 L25.50 155.50 L25.50 156.50 L25.50 157.50 L25.50 158.50 L26.50 159.50 L27.50 159.50 L28.50 159.50 L29.50 159.50 L30.50 158.50 L30.50 157.50 L30.50 156.50 L29.50 155.50 M25.50 152.50 L30.50 152.50 M26.50 152.50 L25.50 151.50 L25.50 150.50 L25.50 149.50 L26.50 148.50 L30.50 148.50 M26.50 148.50 L25.50 147.50 L25.50 146.50 L25.50 145.50 L25.50 144.50 L26.50 144.50 L30.50 144.50 M25.50 141.50 L33.50 141.50 M26.50 141.50 L25.50 140.50 L25.50 138.50 L26.50 137.50 L27.50 137.50 L28.50 137.50 L29.50 137.50 L30.50 138.50 L30.50 140.50 L29.50 141.50 M27.50 134.50 L27.50 130.50 L26.50 130.50 L25.50 130.50 L25.50 131.50 L25.50 133.50 L26.50 134.50 L27.50 134.50 L28.50 134.50 L29.50 134.50 L30.50 133.50 L30.50 131.50 L29.50 130.50 M25.50 127.50 L30.50 127.50 M27.50 127.50 L26.50 127.50 L25.50 126.50 L25.50 125.50 L25.50 124.50 M25.50 118.50 L30.50 118.50 M26.50 118.50 L25.50 119.50 L25.50 120.50 L25.50 121.50 L25.50 122.50 L26.50 122.50 L27.50 123.50 L28.50 123.50 L29.50 122.50 L30.50 122.50 L30.50 121.50 L30.50 120.50 L30.50 119.50 L29.50 118.50 M22.50 115.50 L28.50 115.50 L30.50 115.50 L30.50 114.50 L30.50 113.50 M25.50 116.50 L25.50 114.50 M25.50 111.50 L28.50 111.50 L30.50 111.50 L30.50 110.50 L30.50 109.50 L30.50 108.50 L28.50 107.50 M25.50 107.50 L30.50 107.50 M25.50 104.50 L30.50 104.50 M27.50 104.50 L26.50 104.50 L25.50 103.50 L25.50 102.50 L25.50 101.50 M27.50 99.50 L27.50 95.50 L26.50 95.50 L25.50 95.50 L25.50 96.50 L25.50 98.50 L26.50 99.50 L27.50 99.50 L28.50 99.50 L29.50 99.50 L30.50 98.50 L30.50 96.50 L29.50 95.50 M30.50 92.50 L29.50 92.50 L30.50 92.50 L31.50 92.50 L32.50 92.50 M22.50 83.50 L30.50 83.50 M22.50 83.50 L22.50 80.50 L22.50 79.50 L23.50 78.50 L24.50 78.50 L25.50 77.50 L27.50 77.50 L28.50 78.50 L29.50 78.50 L30.50 79.50 L30.50 80.50 L30.50 83.50 M27.50 75.50 L27.50 71.50 L26.50 71.50 L25.50 71.50 L25.50 72.50 L25.50 73.50 L25.50 74.50 L26.50 75.50 L27.50 75.50 L28.50 75.50 L29.50 75.50 L30.50 74.50 L30.50 73.50 L30.50 72.50 L29.50 71.50 M25.50 64.50 L31.50 64.50 L32.50 64.50 L32.50 65.50 L33.50 66.50 L33.50 67.50 L32.50 67.50 M26.50 64.50 L25.50 65.50 L25.50 66.50 L25.50 67.50 L26.50 68.50 L27.50 69.50 L28.50 69.50 L29.50 68.50 L30.50 67.50 L30.50 66.50 L30.50 65.50 L29.50 64.50 M24.50 50.50 L23.50 50.50 L22.50 51.50 L22.50 52.50 L22.50 53.50 L22.50 54.50 L23.50 55.50 L24.50 55.50 L25.50 56.50 L27.50 56.50 L28.50 55.50 L29.50 55.50 L30.50 54.50 L30.50 53.50 L30.50 52.50 L30.50 51.50 L29.50 50.50 L28.50 50.50 M23.50 313.50 L22.50 314.50 L22.50 315.50 L22.50 316.50 L22.50 317.50 L23.50 318.50 L24.50 318.50 L25.50 318.50 L25.50 317.50 L26.50 314.50 L27.50 314.50 L27.50 313.50 L28.50 313.50 L29.50 313.50 L30.50 314.50 L30.50 315.50 L30.50 316.50 L30.50 317.50 L29.50 318.50 M25.50 310.50 L30.50 310.50 M26.50 310.50 L25.50 309.50 L25.50 308.50 L25.50 307.50 L25.50 306.50 L26.50 306.50 L30.50 306.50 M25.50 302.50 L26.50 303.50 L27.50 303.50 L28.50 303.50 L29.50 303.50 L30.50 302.50 L30.50 301.50 L30.50 300.50 L29.50 299.50 L28.50 299.50 L27.50 299.50 L26.50 299.50 L25.50 300.50 L25.50 301.50 L25.50 302.50 M25.50 296.50 L30.50 295.50 M25.50 293.50 L30.50 295.50 M25.50 293.50 L30.50 292.50 M25.50 290.50 L30.50 292.50 M22.50 282.50 L30.50 282.50 M22.50 282.50 L22.50 279.50 L22.50 278.50 L23.50 277.50 L24.50 277.50 L25.50 277.50 L27.50 277.50 L28.50 277.50 L29.50 277.50 L30.50 278.50 L30.50 279.50 L30.50 282.50 M27.50 274.50 L27.50 270.50 L26.50 270.50 L25.50 270.50 L25.50 271.50 L25.50 272.50 L25.50 273.50 L26.50 274.50 L27.50 274.50 L28.50 274.50 L29.50 274.50 L30.50 273.50 L30.50 272.50 L30.50 271.50 L29.50 270.50 M25.50 267.50 L33.50 267.50 M26.50 267.50 L25.50 267.50 L25.50 266.50 L25.50 265.50 L25.50 264.50 L26.50 263.50 L27.50 263.50 L28.50 263.50 L29.50 263.50 L30.50 264.50 L30.50 265.50 L30.50 266.50 L30.50 267.50 L29.50 267.50 M30.50 260.50 L29.50 260.50 L30.50 260.50 L31.50 260.50 L32.50 260.50 M26.50 247.50 L25.50 247.50 L25.50 248.50 L25.50 249.50 L25.50 250.50 L26.50 251.50 L27.50 251.50 L28.50 251.50 L29.50 251.50 L30.50 250.50 L30.50 249.50 L30.50 248.50 L30.50 247.50 L29.50 247.50 M25.50 244.50 L30.50 244.50 M26.50 244.50 L25.50 243.50 L25.50 242.50 L25.50 241.50 L25.50 240.50 L26.50 240.50 L30.50 240.50 M26.50 240.50 L25.50 239.50 L25.50 238.50 L25.50 237.50 L25.50 236.50 L26.50 236.50 L30.50 236.50 M22.50 454.50 L30.50 452.50 M22.50 450.50 L30.50 452.50 M22.50 450.50 L30.50 448.50 M22.50 447.50 L30.50 448.50 M22.50 445.50 L22.50 444.50 L22.50 445.50 M25.50 444.50 L30.50 444.50 M25.50 441.50 L30.50 441.50 M26.50 441.50 L25.50 440.50 L25.50 439.50 L25.50 438.50 L26.50 437.50 L30.50 437.50 M22.50 430.50 L30.50 430.50 M26.50 430.50 L25.50 431.50 L25.50 432.50 L25.50 433.50 L25.50 434.50 L26.50 434.50 L27.50 435.50 L28.50 435.50 L29.50 434.50 L30.50 434.50 L30.50 433.50 L30.50 432.50 L30.50 431.50 L29.50 430.50 M23.50 416.50 L22.50 417.50 L22.50 418.50 L22.50 420.50 L22.50 421.50 L23.50 422.50 L24.50 422.50 L25.50 421.50 L25.50 420.50 L26.50 418.50 L27.50 417.50 L28.50 416.50 L29.50 416.50 L30.50 417.50 L30.50 418.50 L30.50 420.50 L30.50 421.50 L29.50 422.50 M25.50 414.50 L33.50 414.50 M26.50 414.50 L25.50 413.50 L25.50 412.50 L25.50 411.50 L25.50 410.50 L26.50 410.50 L27.50 409.50 L28.50 409.50 L29.50 410.50 L30.50 410.50 L30.50 411.50 L30.50 412.50 L30.50 413.50 L29.50 414.50 M22.50 403.50 L30.50 403.50 M26.50 403.50 L25.50 403.50 L25.50 404.50 L25.50 405.50 L25.50 406.50 L26.50 407.50 L27.50 407.50 L28.50 407.50 L29.50 407.50 L30.50 406.50 L30.50 405.50 L30.50 404.50 L30.50 403.50 L29.50 403.50 M30.50 399.50 L30.50 400.50 L29.50 399.50 L30.50 399.50 L31.50 399.50 L32.50 400.50 M25.50 390.50 L30.50 390.50 M26.50 390.50 L25.50 389.50 L25.50 388.50 L25.50 387.50 L25.50 386.50 L26.50 386.50 L30.50 386.50 M26.50 386.50 L25.50 385.50 L25.50 384.50 L25.50 383.50 L25.50 382.50 L26.50 382.50 L30.50 382.50 M21.50 373.50 L33.50 380.50 M26.50 367.50 L25.50 367.50 L25.50 368.50 L25.50 370.50 L25.50 371.50 L26.50 371.50 L27.50 371.50 L27.50 370.50 L27.50 368.50 L28.50 367.50 L29.50 367.50 L30.50 367.50 L30.50 368.50 L30.50 370.50 L30.50 371.50 L29.50 371.50" stroke="#000" stroke-width="1" fill="none" stroke-linecap="square"/>
<path d="M70.5 14.5 H970.5 V199.5 H70.5 Z M70.5 187.5 H84.5 M956.5 187.5 H970.5 M70.5 176.5 H84.5 M956.5 176.5 H970.5 M70.5 164.5 H84.5 M956.5 164.5 H970.5 M70.5 153.5 H89.5 M951.5 153.5 H970.5 M70.5 141.5 H84.5 M956.5 141.5 H970.5 M70.5 130.5 H84.5 M956.5 130.5 H970.5 M70.5 118.5 H84.5 M956.5 118.5 H970.5 M70.5 106.5 H89.5 M951.5 106.5 H970.5 M70.5 95.5 H84.5 M956.5 95.5 H970.5 M70.5 83.5 H84.5 M956.5 83.5 H970.5 M70.5 72.5 H84.5 M956.5 72.5 H970.5 M70.5 60.5 H89.5 M951.5 60.5 H970.5 M70.5 49.5 H84.5 M956.5 49.5 H970.5 M70.5 37.5 H84.5 M956.5 37.5 H970.5 M70.5 26.5 H84.5 M956.5 26.5 H970.5 M102.5 14.5 V17.5 M102.5 199.5 V195.5 M134.5 14.5 V17.5 M134.5 199.5 V195.5 M166.5 14.5 V17.5 M166.5 199.5 V195.5 M199.5 14.5 V17.5 M199.5 199.5 V195.5 M231.5 14.5 V17.5 M231.5 199.5 V195.5 M263.5 14.5 V17.5 M263.5 199.5 V195.5 M295.5 14.5 V17.5 M295.5 199.5 V195.5 M327.5 14.5 V17.5 M327.5 199.5 V195.5 M359.5 14.5 V17.5 M359.5 199.5 V195.5 M391.5 14.5 V17.5 M391.5 199.5 V195.5 M424.5 14.5 V17.5 M424.5 199.5 V195.5 M456.5 14.5 V17.5 M456.5 199.5 V195.5 M488.5 14.5 V17.5 M488.5 199.5 V195.5 M520.5 14.5 V17.5 M520.5 199.5 V195.5 M552.5 14.5 V17.5 M552.5 199.5 V195.5 M584.5 14.5 V17.5 M584.5 199.5 V195.5 M616.5 14.5 V17.5 M616.5 199.5 V195.5 M649.5 14.5 V17.5 M649.5 199.5 V195.5 M681.5 14.5 V17.5 M681.5 199.5 V195.5 M713.5 14.5 V17.5 M713.5 199.5 V195.5 M745.5 14.5 V17.5 M745.5 199.5 V195.5 M777.5 14.5 V17.5 M777.5 199.5 V195.5 M809.5 14.5 V17.5 M809.5 199.5 V195.5 M841.5 14.5 V17.5 M841.5 199.5 V195.5 M874.5 14.5 V17.5 M874.5 199.5 V195.5 M906.5 14.5 V17.5 M906.5 199.5 V195.5 M938.5 14.5 V17.5 M938.5 199.5 V195.5 M70.5 214.5 H970.5 V344.5 H70.5 Z M70.5 339.5 H84.5 M956.5 339.5 H970.5 M70.5 333.5 H84.5 M956.5 333.5 H970.5 M70.5 328.5 H84.5 M956.5 328.5 H970.5 M70.5 322.5 H89.5 M951.5 322.5 H970.5 M70.5 317.5 H84.5 M956.5 317.5 H970.5 M70.5 312.5 H84.5 M956.5 312.5 H970.5 M70.5 306.5 H84.5 M956.5 306.5 H970.5 M70.5 301.5 H89.5 M951.5 301.5 H970.5 M70.5 295.5 H84.5 M956.5 295.5 H970.5 M70.5 290.5 H84.5 M956.5 290.5 H970.5 M70.5 284.5 H84.5 M956.5 284.5 H970.5 M70.5 279.5 H89.5 M951.5 279.5 H970.5 M70.5 274.5 H84.5 M956.5 274.5 H970.5 M70.5 268.5 H84.5 M956.5 268.5 H970.5 M70.5 263.5 H84.5 M956.5 263.5 H970.5 M70.5 257.5 H89.5 M951.5 257.5 H970.5 M70.5 252.5 H84.5 M956.5 252.5 H970.5 M70.5 246.5 H84.5 M956.5 246.5 H970.5 M70.5 241.5 H84.5 M956.5 241.5 H970.5 M70.5 236.5 H89.5 M951.5 236.5 H970.5 M70.5 230.5 H84.5 M956.5 230.5 H970.5 M70.5 225.5 H84.5 M956.5 225.5 H970.5 M70.5 219.5 H84.5 M956.5 219.5 H970.5 M102.5 214.5 V216.5 M102.5 344.5 V341.5 M134.5 214.5 V216.5 M134.5 344.5 V341.5 M166.5 214.5 V216.5 M166.5 344.5 V341.5 M199.5 214.5 V216.5 M199.5 344.5 V341.5 M231.5 214.5 V216.5 M231.5 344.5 V341.5 M263.5 214.5 V216.5 M263.5 344.5 V341.5 M295.5 214.5 V216.5 M295.5 344.5 V341.5 M327.5 214.5 V216.5 M327.5 344.5 V341.5 M359.5 214.5 V216.5 M359.5 344.5 V341.5 M391.5 214.5 V216.5 M391.5 344.5 V341.5 M424.5 214.5 V216.5 M424.5 344.5 V341.5 M456.5 214.5 V216.5 M456.5 344.5 V341.5 M488.5 214.5 V216.5 M488.5 344.5 V341.5 M520.5 214.5 V216.5 M520.5 344.5 V341.5 M552.5 214.5 V216.5 M552.5 344.5 V341.5 M584.5 214.5 V216.5 M584.5 344.5 V341.5 M616.5 214.5 V216.5 M616.5 344.5 V341.5 M649.5 214.5 V216.5 M649.5 344.5 V341.5 M681.5 214.5 V216.5 M681.5 344.5 V341.5 M713.5 214.5 V216.5 M713.5 344.5 V341.5 M745.5 214.5 V216.5 M745.5 344.5 V341.5 M777.5 214.5 V216.5 M777.5 344.5 V341.5 M809.5 214.5 V216.5 M809.5 344.5 V341.5 M841.5 214.5 V216.5 M841.5 344.5 V341.5 M874.5 214.5 V216.5 M874.5 344.5 V341.5 M906.5 214.5 V216.5 M906.5 344.5 V341.5 M938.5 214.5 V216.5 M938.5 344.5 V341.5 M70.5 359.5 H970.5 V469.5 H70.5 Z M70.5 462.5 H84.5 M956.5 462.5 H970.5 M70.5 454.5 H84.5 M956.5 454.5 H970.5 M70.5 447.5 H84.5 M956.5 447.5 H970.5 M70.5 440.5 H84.5 M956.5 440.5 H970.5 M70.5 432.5 H88.5 M951.5 432.5 H970.5 M70.5 425.5 H84.5 M956.5 425.5 H970.5 M70.5 418.5 H84.5 M956.5 418.5 H970.5 M70.5 410.5 H84.5 M956.5 410.5 H970.5 M70.5 403.5 H84.5 M956.5 403.5 H970.5 M70.5 396.5 H88.5 M951.5 396.5 H970.5 M70.5 388.5 H84.5 M956.5 388.5 H970.5 M70.5 381.5 H84.5 M956.5 381.5 H970.5 M70.5 374.5 H84.5 M956.5 374.5 H970.5 M70.5 366.5 H84.5 M956.5 366.5 H970.5 M102.5 359.5 V361.5 M102.5 469.5 V466.5 M134.5 359.5 V361.5 M134.5 469.5 V466.5 M166.5 359.5 V361.5 M166.5 469.5 V466.5 M199.5 359.5 V361.5 M199.5 469.5 V466.5 M231.5 359.5 V361.5 M231.5 469.5 V466.5 M263.5 359.5 V361.5 M263.5 469.5 V466.5 M295.5 359.5 V361.5 M295.5 469.5 V466.5 M327.5 359.5 V361.5 M327.5 469.5 V466.5 M359.5 359.5 V361.5 M359.5 469.5 V466.5 M391.5 359.5 V361.5 M391.5 469.5 V466.5 M424.5 359.5 V361.5 M424.5 469.5 V466.5 M456.5 359.5 V361.5 M456.5 469.5 V466.5 M488.5 359.5 V361.5 M488.5 469.5 V466.5 M520.5 359.5 V361.5 M520.5 469.5 V466.5 M552.5 359.5 V361.5 M552.5 469.5 V466.5 M584.5 359.5 V361.5 M584.5 469.5 V466.5 M616.5 359.5 V361.5 M616.5 469.5 V466.5 M649.5 359.5 V361.5 M649.5 469.5 V466.5 M681.5 359.5 V361.5 M681.5 469.5 V466.5 M713.5 359.5 V361.5 M713.5 469.5 V466.5 M745.5 359.5 V361.5 M745.5 469.5 V466.5 M777.5 359.5 V361.5 M777.5 469.5 V466.5 M809.5 359.5 V361.5 M809.5 469.5 V466.5 M841.5 359.5 V361.5 M841.5 469.5 V466.5 M874.5 359.5 V361.5 M874.5 469.5 V466.5 M906.5 359.5 V361.5 M906.5 469.5 V466.5 M938.5 359.5 V361.5 M938.5 469.5 V466.5" stroke="#000" stroke-width="1" fill="none"/>
<path d="M400.5 49.5 H430.5" stroke="#ff0000" stroke-width="1"/>
<path d="M550.5 49.5 H580.5" stroke="#00cc00" stroke-width="1"/>
<path d="M70.5 339.5 L71.5 340.5 L72.5 340.5 L73.5 339.5 L74.5 339.5 L75.5 341.5 L76.5 341.5 L77.5 339.5 L78.5 341.5 L79.5 339.5 L80.5 341.5 L81.5 339.5 L82.5 340.5 L83.5 341.5 L84.5 340.5 L85.5 341.5 L86.5 340.5 L87.5 340.5 L88.5 339.5 L89.5 341.5 L90.5 341.5 L91.5 340.5 L92.5 341.5 L93.5 342.5 L94.5 342.5 L95.5 340.5 L96.5 341.5 L97.5 341.5 L98.5 341.5 L99.5 340.5 L100.5 341.5 L101.5 341.5 L102.5 342.5 L103.5 342.5 L104.5 340.5 L105.5 340.5 L106.5 340.5 L107.5 341.5 L108.4 340.5 L109.4 341.5 L110.4 340.5 L111.3 341.5 L112.3 339.5 L113.2 340.5 L114.2 340.5 L115.2 339.5 L116.1 339.5 L117.1 339.5 L118.1 339.5 L119.0 340.5 L120.0 340.5 L121.0 338.5 L121.9 340.5 L122.9 337.5 L123.9 338.5 L124.9 339.5 L125.8 339.5 L126.8 337.5 L127.8 338.5 L128.7 339.5 L129.7 339.5 L130.7 338.5 L131.6 338.5 L132.6 337.5 L133.6 336.5 L134.6 337.5 L135.5 338.5 L136.5 337.5 L137.5 338.5 L138.5 338.5 L139.5 341.5 L140.2 336.5 L141.0 332.5 L141.9 333.5 L142.9 332.5 L143.8 333.5 L144.8 333.5 L145.7 332.5 L146.6 333.5 L147.6 333.5 L148.5 332.5 L149.5 333.5 L150.5 333.5 L151.5 333.5 L152.5 333.5 L153.5 332.5 L154.5 332.5 L155.5 331.5 L156.5 331.5 L157.5 331.5 L158.5 331.5 L159.5 332.5 L160.5 330.5 L161.5 330.5 L162.5 331.5 L163.5 330.5 L164.5 331.5 L165.5 331.5 L166.5 332.5 L167.5 332.5 L168.5 332.5 L169.5 330.5 L170.5 330.5 L171.5 330.5 L172.5 332.5 L173.5 331.5 L174.5 332.5 L175.5 333.5 L176.5 332.5 L177.5 332.5 L178.5 331.5 L179.5 331.5 L180.5 333.5 L181.5 332.5 L182.5 332.5 L183.5 334.5 L184.5 332.5 L185.5 333.5 L186.5 333.5 L187.5 332.5 L188.5 334.5 L189.5 333.5 L190.5 332.5 L191.5 333.5 L192.5 334.5 L193.5 333.5 L194.5 334.5 L195.5 333.5 L196.5 332.5 L197.5 332.5 L198.5 334.5 L199.5 334.5 L200.5 333.5 L201.5 332.5 L202.5 334.5 L203.5 332.5 L204.5 334.5 L205.5 333.5 L206.5 334.5 L207.5 333.5 L208.5 334.5 L209.5 333.5 L210.5 332.5 L211.5 333.5 L212.5 332.5 L213.5 332.5 L214.5 332.5 L215.5 334.5 L216.5 334.5 L217.5 332.5 L218.5 333.5 L219.5 334.5 L220.5 334.5 L221.5 335.5 L222.5 334.5 L223.5 334.5 L224.5 333.5 L225.5 333.5 L226.5 334.5 L227.5 334.5 L228.5 334.5 L229.5 334.5 L230.5 334.5 L231.5 334.5 L232.5 335.5 L233.5 335.5 L234.5 335.5 L235.5 334.5 L236.5 335.5 L237.5 335.5 L238.5 333.5 L239.5 334.5 L240.5 335.5 L241.5 333.5 L242.5 335.5 L243.5 333.5 L244.5 335.5 L245.5 334.5 L246.5 335.5 L247.5 334.5 L248.5 335.5 L249.5 333.5 L250.5 333.5 L251.5 333.5 L252.5 334.5 L253.5 334.5 L254.5 335.5 L255.5 334.5 L256.5 335.5 L257.5 334.5 L258.5 335.5 L259.5 334.5 L260.5 333.5 L261.5 334.5 L262.5 335.5 L263.5 335.5 L264.5 334.5 L265.5 333.5 L266.5 335.5 L267.5 335.5 L268.5 335.5 L269.5 333.5 L270.5 334.5 L271.5 333.5 L272.5 333.5 L273.5 333.5 L274.5 334.5 L275.5 335.5 L276.5 334.5 L277.5 333.5 L278.5 334.5 L279.5 335.5 L280.5 333.5 L281.5 334.5 L282.5 333.5 L283.5 335.5 L284.5 333.5 L285.5 335.5 L286.5 333.5 L287.5 333.5 L288.5 333.5 L289.5 334.5 L290.5 334.5 L291.5 333.5 L292.5 335.5 L293.5 334.5 L294.5 335.5 L295.5 335.5 L296.5 334.5 L297.5 334.5 L298.5 334.5 L299.5 334.5 L300.5 334.5 L301.5 334.5 L302.5 334.5 L303.5 334.5 L304.5 335.5 L305.5 335.5 L306.5 335.5 L307.5 335.5 L308.5 336.5 L309.5 334.5 L310.5 335.5 L311.5 335.5 L312.5 334.5 L313.5 336.5 L314.5 334.5 L315.5 334.5 L316.5 335.5 L317.5 335.5 L318.5 336.5 L319.5 335.5 L320.5 334.5 L321.5 335.5 L322.5 335.5 L323.5 335.5 L324.5 335.5 L325.5 335.5 L326.5 334.5 L327.5 336.5 L328.5 334.5 L329.5 334.5 L330.5 334.5 L331.5 334.5 L332.5 336.5 L333.5 335.5 L334.5 335.5 L335.5 334.5 L336.5 335.5 L337.5 335.5 L338.5 336.5 L339.5 335.5 L340.5 335.5 L341.5 335.5 L342.5 334.5 L343.5 335.5 L344.5 334.5 L345.5 334.5 L346.5 335.5 L347.5 336.5 L348.5 336.5 L349.5 335.5 L350.5 335.5 L351.5 335.5 L352.5 334.5 L353.5 334.5 L354.5 336.5 L355.5 335.5 L356.5 335.5 L357.5 335.5 L358.5 335.5 L359.5 335.5 L360.5 336.5 L361.5 335.5 L362.5 335.5 L363.5 335.5 L364.5 335.5 L365.5 335.5 L366.5 335.5 L367.5 334.5 L368.5 334.5 L369.5 335.5 L370.5 336.5 L371.5 335.5 L372.5 336.5 L373.5 335.5 L374.5 336.5 L375.5 335.5 L376.5 336.5 L377.5 335.5 L378.5 335.5 L379.5 335.5 L380.5 336.5 L381.5 335.5 L382.5 334.5 L383.5 336.5 L384.5 335.5 L385.5 336.5 L386.5 336.5 L387.5 336.5 L388.5 334.5 L389.5 336.5 L390.5 335.5 L391.5 335.5 L392.5 334.5 L393.5 336.5 L394.5 335.5 L395.5 336.5 L396.5 336.5 L397.5 336.5 L398.5 336.5 L399.5 334.5 L400.5 335.5 L401.5 334.5 L402.5 334.5 L403.5 336.5 L404.5 335.5 L405.5 335.5 L406.5 334.5 L407.5 334.5 L408.5 336.5 L409.5 335.5 L410.5 336.5 L411.5 335.5 L412.5 335.5 L413.5 335.5 L414.5 334.5 L415.5 335.5 L416.5 336.5 L417.5 335.5 L418.5 334.5 L419.5 335.5 L420.5 335.5 L421.5 334.5 L422.5 334.5 L423.5 335.5 L424.5 334.5 L425.5 336.5 L426.5 335.5 L427.5 336.5 L428.5 336.5 L429.5 334.5 L430.5 335.5 L431.5 337.5 L432.5 335.5 L433.5 335.5 L434.5 336.5 L435.5 337.5 L436.5 336.5 L437.5 336.5 L438.5 335.5 L439.5 335.5 L440.5 337.5 L441.5 338.5 L442.5 338.5 L443.5 336.5 L444.5 338.5 L445.5 336.5 L446.5 337.5 L447.5 337.5 L448.5 337.5 L449.5 337.5 L450.5 338.5 L451.5 338.5 L452.5 338.5 L453.5 338.5 L454.5 337.5 L455.5 338.5 L456.5 338.5 L457.5 338.5 L458.5 337.5 L459.5 339.5 L460.5 338.5 L461.5 337.5 L462.5 338.5 L463.5 338.5 L464.5 338.5 L465.5 338.5 L466.5 338.5 L467.5 338.5 L468.5 338.5 L469.5 337.5 L470.5 339.5 L471.5 338.5 L472.5 340.5 L473.5 339.5 L474.5 340.5 L475.5 338.5 L476.5 339.5 L477.5 339.5 L478.5 339.5 L479.5 339.5 L480.5 340.5 L481.5 340.5 L482.5 340.5 L483.5 340.5 L484.5 338.5 L485.5 340.5 L486.5 339.5 L487.5 339.5 L488.5 339.5 L489.5 338.5 L490.5 339.5 L491.5 338.5 L492.5 339.5 L493.5 339.5 L494.5 338.5 L495.5 338.5 L496.5 338.5 L497.5 339.5 L498.5 341.5 L499.5 339.5 L500.5 340.5 L501.5 339.5 L502.5 339.5 L503.5 341.5 L504.5 341.5 L505.5 341.5 L506.5 340.5 L507.5 340.5 L508.5 340.5 L509.5 339.5 L510.5 340.5 L511.5 341.5 L512.5 339.5 L513.5 341.5 L514.5 341.5 L515.5 340.5 L516.5 340.5 L517.5 340.5 L518.5 340.5 L519.5 340.5 L520.5 341.5 L521.5 339.5 L522.5 340.5 L523.5 341.5 L524.5 339.5 L525.5 339.5 L526.5 339.5 L527.5 341.5 L528.5 340.5 L529.5 339.5 L530.5 341.5 L531.5 340.5 L532.5 339.5 L533.5 340.5 L534.5 342.5 L535.5 342.5 L536.5 340.5 L537.5 341.5 L538.5 342.5 L539.5 342.5 L540.5 340.5 L541.5 341.5 L542.5 340.5 L543.5 342.5 L544.5 342.5 L545.5 340.5 L546.5 341.5 L547.5 340.5 L548.5 342.5 L549.5 341.5 L550.5 340.5 L551.5 341.5 L552.5 342.5 L553.5 340.5 L554.5 342.5 L555.5 342.5 L556.5 340.5 L557.5 341.5 L558.5 341.5 L559.5 342.5 L560.5 341.5 L561.5 340.5 L562.5 342.5 L563.5 340.5 L564.5 341.5 L565.5 342.5 L566.5 341.5 L567.5 342.5 L568.5 341.5 L569.5 340.5 L570.5 341.5 L571.5 341.5 L572.5 342.5 L573.5 341.5 L574.5 341.5 L575.5 341.5 L576.5 340.5 L577.5 342.5 L578.5 340.5 L579.5 340.5 L580.5 341.5 L581.5 340.5 L582.5 340.5 L583.5 341.5 L584.5 342.5 L585.5 341.5 L586.5 342.5 L587.5 340.5 L588.5 340.5 L589.5 340.5 L590.5 341.5 L591.5 342.5 L592.5 342.5 L593.5 340.5 L594.5 341.5 L595.5 342.5 L596.5 340.5 L597.5 340.5 L598.5 342.5 L599.5 341.5 L600.5 341.5 L601.5 341.5 L602.5 342.5 L603.5 340.5 L604.5 342.5 L605.5 340.5 L606.5 342.5 L607.5 340.5 L608.5 340.5 L609.5 342.5 L610.5 341.5 L611.5 341.5 L612.5 340.5 L613.5 341.5 L614.5 341.5 L615.5 341.5 L616.5 340.5 L617.5 340.5 L618.5 341.5 L619.5 340.5 L620.5 340.5 L621.5 342.5 L622.5 341.5 L623.5 340.5 L624.5 341.5 L625.5 342.5 L626.5 341.5 L627.5 341.5 L628.5 340.5 L629.5 340.5 L630.5 341.5 L631.5 342.5 L632.5 342.5 L633.5 342.5 L634.5 340.5 L635.5 341.5 L636.5 340.5 L637.5 342.5 L638.5 340.5 L639.5 340.5 L640.5 342.5 L641.5 340.5 L642.5 342.5 L643.5 341.5 L644.5 341.5 L645.5 342.5 L646.5 341.5 L647.5 341.5 L648.5 340.5 L649.5 341.5 L650.5 341.5 L651.5 340.5 L652.5 341.5 L653.5 342.5 L654.5 342.5 L655.5 340.5 L656.5 341.5 L657.5 342.5 L658.5 341.5 L659.5 341.5 L660.5 342.5 L661.5 342.5 L662.5 341.5 L663.5 342.5 L664.5 342.5 L665.5 340.5 L666.5 342.5 L667.5 342.5 L668.5 341.5 L669.5 342.5 L670.5 341.5 L671.5 340.5 L672.5 341.5 L673.5 342.5 L674.5 340.5 L675.5 342.5 L676.5 341.5 L677.5 342.5 L678.5 340.5 L679.5 342.5 L680.5 340.5 L681.5 342.5 L682.5 341.5 L683.5 340.5 L684.5 342.5 L685.5 341.5 L686.5 341.5 L687.5 340.5 L688.5 342.5 L689.5 340.5 L690.5 342.5 L691.5 340.5 L692.5 342.5 L693.5 342.5 L694.5 342.5 L695.5 340.5 L696.5 341.5 L697.5 341.5 L698.5 341.5 L699.5 341.5 L700.5 341.5 L701.5 341.5 L702.5 341.5 L703.5 342.5 L704.5 342.5 L705.5 341.5 L706.5 341.5 L707.5 341.5 L708.5 340.5 L709.5 342.5 L710.5 341.5 L711.5 341.5 L712.5 340.5 L713.5 340.5 L714.5 341.5 L715.5 342.5 L716.5 342.5 L717.5 341.5 L718.5 342.5 L719.5 342.5 L720.5 341.5 L721.5 341.5 L722.5 341.5 L723.5 340.5 L724.5 341.5 L725.5 342.5 L726.5 341.5 L727.5 342.5 L728.5 341.5 L729.5 341.5 L730.5 342.5 L731.5 341.5 L732.5 341.5 L733.5 341.5 L734.5 342.5 L735.5 341.5 L736.5 341.5 L737.5 341.5 L738.5 342.5 L739.5 340.5 L740.5 342.5 L741.5 340.5 L742.5 342.5 L743.5 341.5 L744.5 342.5 L745.5 342.5 L746.5 341.5 L747.5 341.5 L748.5 340.5 L749.5 342.5 L750.5 340.5 L751.5 342.5 L752.5 340.5 L753.5 340.5 L754.5 341.5 L755.5 342.5 L756.5 341.5 L757.5 340.5 L758.5 340.5 L759.5 342.5 L760.5 341.5 L761.5 341.5 L762.5 340.5 L763.5 340.5 L764.5 341.5 L765.5 340.5 L766.5 340.5 L767.5 341.5 L768.5 341.5 L769.5 341.5 L770.5 341.5 L771.5 341.5 L772.5 341.5 L773.5 341.5 L774.5 341.5 L775.5 341.5 L776.5 342.5 L777.5 340.5 L778.5 340.5 L779.5 341.5 L780.5 340.5 L781.5 341.5 L782.5 341.5 L783.5 341.5 L784.5 340.5 L785.5 341.5 L786.5 341.5 L787.5 342.5 L788.5 340.5 L789.5 340.5 L790.5 341.5 L791.5 340.5 L792.5 340.5 L793.5 340.5 L794.5 341.5 L795.5 341.5 L796.5 341.5 L797.5 340.5 L798.5 341.5 L799.5 342.5 L800.5 342.5 L801.5 340.5 L802.5 340.5 L803.5 341.5 L804.5 340.5 L805.5 340.5 L806.5 341.5 L807.5 341.5 L808.5 342.5 L809.5 342.5 L810.5 342.5 L811.5 340.5 L812.5 341.5 L813.5 340.5 L814.5 342.5 L815.5 340.5 L816.5 342.5 L817.5 342.5 L818.5 341.5 L819.5 342.5 L820.5 341.5 L821.5 339.5 L822.5 340.5 L823.5 339.5 L824.5 339.5 L825.5 341.5 L826.5 339.5 L827.5 341.5 L828.5 341.5 L829.5 340.5 L830.5 339.5 L831.5 341.5 L832.5 339.5 L833.5 340.5 L834.5 339.5 L835.5 340.5 L836.5 340.5 L837.5 340.5 L838.5 341.5 L839.5 340.5 L840.5 339.5 L841.5 339.5 L842.5 339.5 L843.5 339.5 L844.5 340.5 L845.5 340.5 L846.5 340.5 L847.5 339.5 L848.5 340.5 L849.5 340.5 L850.5 339.5 L851.5 341.5 L852.5 341.5 L853.5 341.5 L854.5 339.5 L855.5 339.5 L856.5 341.5 L857.5 341.5 L858.5 340.5 L859.5 339.5 L860.5 339.5 L861.5 340.5 L862.5 339.5 L863.5 339.5 L864.5 341.5 L865.5 339.5 L866.5 340.5 L867.5 339.5 L868.5 339.5 L869.5 339.5 L870.5 339.5 L871.5 340.5 L872.5 340.5 L873.5 340.5 L874.5 339.5 L875.5 341.5 L876.5 339.5 L877.5 339.5 L878.5 341.5 L879.5 340.5 L880.5 340.5 L881.5 339.5 L882.5 339.5 L883.5 339.5 L884.5 341.5 L885.5 341.5 L886.5 341.5 L887.5 340.5 L888.5 339.5 L889.5 340.5 L890.5 341.5 L891.5 341.5 L892.5 340.5 L893.5 340.5 L894.5 340.5 L895.5 339.5 L896.5 338.5 L897.5 338.5 L898.5 338.5 L899.4 339.5 L900.4 339.5 L901.4 340.5 L902.4 340.5 L903.4 340.5 L904.4 338.5 L905.4 340.5 L906.4 339.5 L907.3 338.5 L908.3 339.5 L909.3 339.5 L910.3 340.5 L911.3 338.5 L912.3 339.5 L913.3 339.5 L914.2 338.5 L915.2 340.5 L916.2 340.5 L917.2 339.5 L918.2 339.5 L919.2 338.5 L920.2 339.5 L921.2 339.5 L922.1 338.5 L923.1 338.5 L924.1 339.5 L925.1 339.5 L926.1 339.5 L927.1 338.5 L928.1 338.5 L929.1 337.5 L930.0 338.5 L931.0 339.5 L932.0 338.5 L933.0 337.5 L934.0 338.5 L935.0 339.5 L936.0 340.5 L937.0 338.5 L938.0 338.5 L939.0 339.5 L939.9 340.5 L940.8 338.5 L941.7 336.5 L942.6 335.5 L943.5 335.5 L944.5 334.5 L945.5 335.5 L946.5 336.5 L947.5 336.5 L948.5 334.5 L949.5 334.5 L950.5 336.5 L951.5 334.5 L952.5 333.5 L953.5 334.5 L954.5 335.5 L955.5 335.5 L956.5 334.5 L957.5 334.5 L958.5 335.5 L959.5 334.5 L960.5 334.5 L961.5 335.5 L962.5 335.5 L963.5 334.5 L964.5 335.5 L965.5 334.5 L966.5 334.5 L967.5 334.5 L968.5 334.5 L969.5 334.5 L970.5 334.5" stroke="#0000cc" stroke-width="1" fill="none"/>
<path d="M70.5 111.9 L72.0 111.6 L73.5 111.2 L75.0 110.9 L76.5 110.3 L78.0 110.0 L79.5 108.8 L81.0 109.8 L82.5 110.9 L84.0 111.3 L85.5 112.2 L87.0 111.6 L88.5 112.0 L90.0 112.0 L91.5 112.4 L93.0 112.5 L94.5 112.1 L96.0 112.4 L97.2 111.0 L98.3 110.1 L99.5 108.4 L100.8 108.8 L102.0 110.3 L103.2 110.6 L104.5 111.9 L105.8 111.2 L107.1 110.9 L108.4 111.5 L109.7 110.7 L111.0 110.4 L112.5 111.1 L114.0 111.0 L115.5 110.5 L117.0 111.1 L118.5 110.7 L120.0 110.9 L121.5 110.4 L123.0 111.1 L124.5 110.9 L126.0 111.1 L127.5 111.1 L129.0 110.5 L130.5 110.6 L132.0 110.4 L133.5 110.4 L135.0 110.3 L136.5 110.5 L138.0 110.8 L139.5 110.3 L141.0 110.9 L142.5 110.6 L144.0 110.9 L145.5 111.7 L147.0 111.8 L148.5 112.0 L150.0 112.6 L151.5 113.1 L153.0 112.9 L154.5 114.1 L156.0 113.3 L157.5 114.0 L159.0 114.2 L160.5 113.5 L162.0 114.2 L163.5 113.9 L165.0 114.2 L166.5 113.7 L168.0 113.8 L169.5 114.0 L171.0 114.7 L172.5 114.1 L174.0 114.7 L175.5 114.9 L177.0 115.0 L178.5 114.5 L180.0 114.6 L181.5 114.8 L183.0 115.1 L184.5 114.6 L186.0 115.3 L187.5 115.4 L189.0 115.5 L190.5 114.9 L192.0 115.8 L193.5 115.1 L195.0 115.4 L196.5 115.7 L198.0 116.1 L199.5 118.7 L201.0 122.4 L202.5 120.3 L204.0 118.3 L205.5 116.5 L207.0 116.5 L208.5 116.5 L210.0 116.6 L211.5 117.2 L213.0 117.5 L214.5 116.9 L216.0 116.9 L217.5 117.8 L219.0 117.5 L220.5 117.4 L222.0 116.8 L223.5 116.7 L225.0 116.4 L226.5 115.7 L227.9 115.7 L229.3 115.4 L230.7 116.2 L232.1 115.4 L233.5 115.8 L234.9 116.2 L236.3 115.6 L237.7 116.1 L239.1 116.4 L240.5 116.1 L241.8 119.4 L243.0 121.9 L244.2 120.3 L245.3 118.1 L246.5 116.8 L247.9 116.1 L249.3 116.1 L250.7 116.3 L252.1 116.0 L253.5 115.9 L255.0 116.5 L256.5 117.6 L258.0 118.9 L259.5 116.8 L261.0 114.7 L262.5 114.9 L264.0 114.8 L265.5 115.1 L267.0 115.8 L268.5 115.9 L270.0 115.7 L271.5 115.7 L273.0 115.6 L274.5 115.5 L276.0 115.8 L277.5 116.3 L279.0 116.5 L280.5 116.2 L282.0 116.9 L283.5 117.1 L285.0 117.4 L286.5 117.6 L288.0 117.7 L289.5 117.4 L291.0 117.7 L292.5 117.4 L294.0 117.5 L295.5 117.8 L297.0 117.8 L298.5 117.4 L300.0 118.0 L301.5 117.8 L303.0 117.7 L304.5 117.2 L306.0 117.7 L307.5 117.4 L309.0 117.8 L310.5 117.7 L312.0 118.0 L313.5 117.8 L315.0 118.0 L316.5 117.6 L318.0 117.9 L319.5 118.0 L321.0 118.1 L322.5 117.7 L324.0 118.1 L325.5 118.3 L327.0 118.3 L328.5 118.7 L330.0 118.9 L331.5 118.7 L333.0 118.9 L334.5 118.7 L336.0 119.4 L337.5 119.6 L339.0 119.3 L340.5 119.6 L342.0 119.8 L343.5 119.9 L345.0 119.1 L346.5 119.4 L348.0 118.9 L349.5 118.7 L351.0 118.2 L352.5 118.1 L354.0 118.1 L355.5 117.9 L357.0 117.9 L358.5 117.1 L360.0 117.2 L361.5 117.3 L363.0 117.4 L364.5 116.9 L366.0 117.2 L367.5 117.0 L369.0 116.4 L370.5 116.7 L372.0 116.3 L373.5 115.9 L375.0 115.8 L376.5 115.7 L378.0 115.4 L379.5 115.2 L381.0 114.9 L382.5 115.1 L384.0 114.8 L385.5 114.3 L387.0 113.6 L388.5 112.6 L390.0 112.6 L391.5 111.0 L393.0 110.6 L394.5 109.8 L396.0 109.1 L397.5 108.1 L399.0 108.0 L400.5 106.9 L402.0 106.6 L403.5 107.2 L405.0 106.8 L406.5 107.2 L408.0 107.1 L409.5 107.3 L411.0 107.7 L412.5 107.6 L414.0 107.3 L415.5 107.7 L417.0 107.6 L418.5 107.4 L420.0 106.7 L421.5 106.7 L423.0 106.7 L424.5 106.7 L426.0 106.7 L427.5 106.7 L429.0 106.7 L430.5 106.7 L432.0 106.7 L433.5 106.7 L435.0 106.7 L436.5 106.7 L438.0 106.7 L439.5 106.7 L441.0 106.7 L442.5 106.7 L444.0 106.7 L445.5 106.7 L447.0 106.7 L448.5 106.7 L450.0 106.7 L451.5 106.7 L453.0 106.7 L454.5 106.7 L456.0 106.7 L457.5 106.7 L459.0 106.7 L460.5 106.7 L462.0 106.7 L463.5 106.7 L465.0 106.7 L466.5 106.7 L468.0 106.7 L469.5 106.7 L471.0 106.7 L472.5 106.7 L474.0 106.7 L475.5 106.7 L477.0 106.7 L478.5 106.7 L480.0 106.7 L481.5 106.7 L483.0 106.7 L484.5 106.7 L486.0 106.7 L487.5 106.7 L489.0 106.7 L490.5 106.7 L492.0 106.7 L493.5 106.7 L495.0 106.7 L496.5 106.7 L498.0 106.7 L499.5 106.7 L501.0 106.7 L502.5 106.7 L504.0 106.7 L505.5 106.7 L507.0 106.7 L508.5 106.7 L510.0 106.7 L511.5 106.7 L513.0 106.7 L514.5 106.7 L516.0 106.7 L517.5 106.7 L519.0 106.7 L520.5 106.7 L522.0 106.7 L523.5 106.7 L525.0 106.7 L526.5 106.7 L528.0 106.7 L529.5 106.7 L531.0 106.7 L532.5 106.7 L534.0 106.7 L535.5 106.7 L537.0 106.7 L538.5 106.7 L540.0 106.7 L541.5 106.7 L543.0 106.7 L544.5 106.7 L546.0 106.7 L547.5 106.7 L549.0 106.7 L550.5 106.7 L552.0 106.7 L553.5 106.7 L555.0 106.7 L556.5 106.7 L558.0 106.7 L559.5 106.7 L561.0 106.7 L562.5 107.7 L564.0 107.6 L565.5 107.5 L567.0 107.9 L568.5 108.2 L570.0 107.5 L571.5 107.7 L573.0 108.3 L574.5 108.4 L576.0 108.5 L577.5 108.1 L579.0 108.9 L580.5 109.3 L582.0 109.5 L583.5 109.4 L585.0 109.9 L586.5 111.8 L588.0 111.8 L589.5 112.8 L591.0 113.6 L592.5 113.9 L594.0 114.0 L595.5 114.7 L597.0 115.8 L598.5 115.7 L600.0 116.7 L601.5 117.0 L603.0 117.4 L604.5 118.4 L606.0 118.4 L607.5 119.0 L609.0 119.8 L610.5 120.1 L612.0 120.6 L613.5 121.6 L615.0 122.3 L616.5 123.0 L618.0 122.8 L619.5 123.6 L621.0 124.1 L622.5 124.9 L624.0 125.3 L625.5 125.6 L627.0 125.1 L628.5 124.7 L630.0 125.2 L631.5 124.7 L633.0 123.2 L634.5 121.2 L636.0 120.1 L637.5 118.2 L639.0 116.8 L640.5 115.0 L642.0 115.7 L643.5 115.8 L645.0 116.7 L646.5 115.1 L648.0 113.4 L649.5 113.1 L651.0 112.9 L652.5 115.2 L654.0 114.6 L655.5 115.0 L657.0 114.8 L658.5 114.2 L660.0 114.7 L661.5 115.6 L663.0 117.2 L664.5 119.1 L666.0 119.7 L667.5 121.2 L669.0 121.8 L670.5 122.5 L672.0 123.8 L673.5 124.0 L675.0 125.5 L676.5 124.9 L678.0 125.0 L679.5 125.7 L681.0 125.5 L682.5 125.1 L684.0 125.0 L685.5 123.9 L687.0 121.8 L688.5 123.6 L690.0 124.6 L691.5 126.6 L693.0 125.0 L694.5 123.6 L696.0 122.4 L697.5 121.3 L699.0 121.4 L700.5 121.7 L702.0 121.8 L703.5 122.8 L705.0 124.4 L706.5 126.3 L708.0 127.5 L709.5 129.4 L711.0 130.7 L712.5 132.3 L714.0 133.5 L715.5 134.9 L717.0 135.1 L718.5 135.2 L720.0 135.6 L721.5 136.3 L723.0 136.6 L724.5 137.8 L726.0 137.9 L727.5 138.6 L729.0 138.4 L730.5 138.8 L732.0 139.2 L733.5 138.9 L735.0 138.7 L736.5 138.8 L738.0 138.4 L739.5 138.5 L741.0 138.5 L742.5 138.7 L744.0 136.4 L745.5 137.1 L747.0 136.7 L748.5 137.0 L750.0 137.3 L751.5 137.5 L753.0 137.8 L754.5 138.1 L756.0 138.5 L757.5 138.4 L759.0 137.5 L760.5 135.3 L762.0 134.1 L763.5 132.2 L765.0 130.5 L766.5 128.7 L768.0 128.3 L769.5 126.7 L771.0 126.4 L772.5 125.6 L774.0 125.6 L775.5 125.2 L777.0 124.3 L778.5 124.0 L780.0 123.4 L781.5 123.2 L783.0 122.7 L784.5 122.6 L786.0 123.8 L787.5 124.0 L789.0 124.6 L790.5 125.5 L792.0 124.7 L793.5 124.6 L795.0 124.0 L796.5 123.0 L798.0 122.5 L799.5 123.2 L801.0 123.8 L802.5 123.8 L804.0 124.0 L805.5 124.8 L807.0 124.2 L808.5 124.6 L810.0 126.5 L811.5 127.4 L813.0 128.3 L814.5 129.6 L816.0 130.8 L817.5 131.2 L819.0 131.8 L820.5 132.4 L822.0 131.5 L823.5 131.2 L825.0 129.9 L826.5 129.4 L828.0 127.6 L829.5 127.6 L831.0 127.3 L832.5 127.4 L834.0 130.3 L835.5 130.5 L837.0 130.7 L838.5 130.6 L840.0 130.4 L841.5 130.4 L843.0 130.1 L844.5 128.4 L846.0 127.6 L847.5 126.4 L849.0 126.2 L850.5 125.5 L852.0 125.3 L853.5 124.8 L855.0 124.9 L856.5 124.9 L858.0 124.3 L859.5 124.2 L861.0 123.3 L862.5 122.8 L864.0 123.0 L865.5 122.7 L867.0 122.5 L868.5 122.1 L870.0 122.0 L871.5 121.9 L873.0 121.8 L874.5 121.0 L876.0 120.9 L877.5 121.0 L879.0 120.3 L880.5 120.0 L882.0 119.9 L883.5 119.5 L885.0 119.9 L886.5 120.9 L888.0 121.3 L889.5 120.6 L891.0 119.9 L892.5 119.5 L894.0 120.2 L895.5 121.4 L897.0 120.4 L898.5 118.9 L900.0 117.5 L901.5 116.9 L903.0 116.1 L904.5 116.0 L906.0 115.8 L907.5 115.7 L909.0 115.2 L910.5 115.3 L912.0 115.0 L913.5 115.2 L915.0 114.8 L916.5 114.9 L918.0 114.9 L919.5 115.2 L921.0 115.3 L922.5 115.4 L924.0 116.0 L925.5 116.1 L927.0 116.3 L928.5 116.0 L930.0 115.9 L931.5 115.4 L933.0 115.8 L934.5 115.4 L936.0 115.0 L937.5 114.9 L939.0 114.9 L940.5 114.9 L942.0 115.2 L943.5 114.7 L945.0 114.4 L946.5 115.0 L948.0 114.7 L949.5 114.1 L951.0 114.1 L952.5 114.0 L954.0 114.2 L955.5 114.5 L957.0 114.6 L958.5 114.2 L960.0 113.8 L961.5 113.9 L963.0 113.8 L964.5 113.7 L966.0 113.4 L967.5 113.9 L969.0 114.0 L970.5 113.9" stroke="#00cc00" stroke-width="1" fill="none"/>
<path d="M70.5 109.5 L72.0 109.2 L73.5 109.7 L75.0 108.9 L76.5 109.4 L78.0 109.1 L79.5 108.7 L81.0 109.2 L82.5 108.6 L84.0 109.1 L85.5 108.6 L87.0 108.6 L88.5 109.0 L90.0 109.5 L91.5 108.6 L93.0 108.7 L94.5 109.2 L96.0 109.5 L97.5 109.1 L99.0 108.8 L100.5 109.5 L102.0 108.4 L103.5 109.3 L105.0 108.6 L106.5 108.4 L108.0 108.4 L109.5 108.6 L111.0 109.2 L112.5 108.4 L114.0 108.9 L115.5 109.0 L117.0 108.6 L118.5 108.9 L120.0 108.3 L121.5 108.3 L123.0 108.4 L124.5 109.0 L126.0 108.7 L127.5 108.6 L129.0 108.9 L130.5 108.7 L132.0 108.6 L133.5 109.2 L135.0 109.0 L136.5 108.5 L138.0 108.9 L139.5 108.8 L141.0 109.3 L142.5 109.1 L144.0 108.6 L145.5 109.6 L147.0 108.6 L148.5 109.1 L150.0 109.6 L151.5 109.0 L153.0 109.5 L154.5 109.0 L156.0 109.9 L157.5 110.1 L159.0 110.0 L160.5 110.5 L162.0 110.0 L163.5 110.6 L165.0 110.7 L166.5 110.8 L168.0 110.8 L169.5 111.5 L171.0 111.8 L172.5 111.4 L174.0 111.8 L175.5 111.3 L177.0 112.2 L178.5 112.3 L180.0 112.9 L181.5 112.9 L183.0 112.4 L184.5 112.7 L186.0 113.1 L187.5 112.4 L189.0 113.0 L190.5 112.8 L192.0 112.8 L193.5 112.8 L195.0 113.7 L196.5 113.1 L198.0 113.3 L199.5 113.6 L201.0 114.1 L202.5 113.1 L204.0 113.5 L205.5 113.6 L207.0 113.9 L208.5 113.8 L210.0 113.8 L211.5 113.0 L213.0 113.1 L214.5 113.0 L216.0 113.6 L217.5 113.6 L219.0 112.6 L220.5 112.6 L222.0 112.7 L223.5 112.7 L225.0 113.0 L226.5 113.1 L228.0 112.7 L229.5 112.4 L231.0 112.9 L232.5 112.8 L234.0 113.1 L235.5 113.5 L237.0 113.2 L238.5 113.0 L240.0 113.1 L241.5 114.0 L243.0 114.0 L244.5 114.1 L246.0 113.1 L247.5 112.3 L249.0 111.9 L250.5 111.1 L252.0 110.8 L253.5 110.2 L255.0 110.5 L256.5 109.5 L258.0 109.9 L259.5 110.5 L261.0 110.8 L262.5 111.5 L264.0 111.5 L265.5 111.9 L267.0 112.0 L268.5 111.9 L270.0 112.2 L271.5 111.7 L273.0 112.7 L274.5 112.3 L276.0 112.1 L277.5 112.6 L279.0 113.0 L280.5 113.4 L282.0 113.4 L283.5 114.6 L285.0 114.8 L286.5 114.2 L288.0 114.3 L289.5 113.9 L291.0 113.9 L292.5 114.2 L294.0 114.2 L295.5 114.9 L297.0 114.1 L298.5 114.0 L300.0 115.1 L301.5 114.7 L303.0 114.3 L304.5 114.8 L306.0 114.2 L307.5 114.8 L309.0 115.4 L310.5 115.3 L312.0 115.1 L313.5 114.7 L315.0 114.8 L316.5 114.6 L318.0 115.4 L319.5 115.1 L321.0 115.5 L322.5 115.0 L324.0 114.9 L325.5 115.8 L327.0 116.3 L328.5 116.4 L330.0 116.5 L331.5 116.6 L333.0 116.6 L334.5 116.1 L336.0 116.5 L337.5 116.4 L339.0 116.1 L340.5 116.2 L342.0 116.6 L343.5 116.7 L345.0 117.3 L346.5 117.7 L348.0 116.9 L349.5 117.3 L351.0 117.2 L352.5 117.0 L354.0 116.1 L355.5 115.7 L357.0 115.6 L358.5 115.3 L360.0 115.2 L361.5 115.5 L363.0 115.7 L364.5 115.5 L366.0 114.9 L367.5 115.0 L369.0 115.0 L370.5 114.0 L372.0 114.6 L373.5 114.7 L375.0 114.4 L376.5 114.3 L378.0 113.8 L379.5 113.3 L381.0 113.0 L382.5 111.5 L384.0 111.1 L385.5 111.0 L387.0 110.1 L388.5 109.8 L390.0 110.2 L391.5 109.0 L393.0 107.4 L394.5 106.4 L396.0 105.5 L397.5 106.1 L399.0 105.7 L400.5 104.7 L402.0 105.2 L403.5 105.1 L405.0 104.5 L406.5 103.8 L408.0 104.6 L409.5 104.6 L411.0 104.9 L412.5 105.9 L414.0 105.3 L415.5 105.0 L417.0 105.2 L418.5 104.2 L420.0 104.5 L421.5 104.2 L423.0 103.2 L424.5 103.0 L426.0 102.8 L427.5 102.5 L429.0 102.9 L430.5 102.5 L432.0 102.7 L433.5 102.4 L435.0 103.3 L436.5 102.6 L438.0 102.7 L439.5 102.9 L441.0 103.3 L442.5 102.7 L444.0 103.3 L445.5 102.8 L447.0 102.8 L448.5 102.8 L450.0 102.2 L451.5 102.7 L453.0 102.4 L454.5 102.2 L456.0 103.2 L457.5 102.4 L459.0 102.8 L460.5 103.1 L462.0 103.5 L463.5 103.8 L465.0 103.4 L466.5 102.9 L468.0 103.1 L469.5 102.3 L471.0 102.9 L472.5 102.5 L474.0 103.0 L475.5 104.1 L477.0 103.3 L478.5 102.9 L479.8 103.1 L481.2 103.3 L482.5 102.7 L483.7 103.5 L484.8 103.9 L486.0 104.5 L487.2 104.2 L488.3 103.3 L489.5 102.8 L490.9 102.8 L492.3 103.3 L493.7 103.0 L495.1 103.3 L496.5 103.3 L498.0 103.2 L499.5 104.3 L501.0 105.4 L502.2 104.6 L503.3 103.1 L504.5 102.3 L506.0 102.7 L507.5 102.3 L509.0 102.5 L510.5 102.3 L511.8 102.8 L513.0 102.6 L514.5 101.7 L516.0 99.7 L517.5 99.3 L519.0 100.2 L520.5 100.6 L522.0 101.3 L523.5 101.3 L525.0 100.3 L526.5 101.1 L528.0 100.3 L529.5 100.3 L531.0 100.8 L532.5 100.5 L534.0 99.6 L535.5 99.8 L537.0 100.1 L538.5 100.1 L540.0 100.2 L541.5 100.6 L543.0 101.3 L544.5 100.6 L546.0 101.4 L547.5 101.4 L549.0 101.1 L550.5 101.7 L552.0 102.2 L553.5 102.2 L555.0 101.9 L556.5 103.2 L558.0 103.2 L559.5 103.7 L561.0 102.9 L562.5 103.3 L564.0 103.2 L565.5 104.3 L567.0 103.9 L568.5 103.9 L570.0 104.4 L571.5 105.8 L573.0 106.5 L574.5 105.1 L576.0 104.3 L577.5 104.5 L579.0 104.5 L580.5 105.0 L582.0 104.6 L583.5 105.0 L585.0 106.1 L586.5 106.1 L588.0 105.9 L589.5 107.2 L591.0 107.1 L592.5 107.5 L594.0 106.9 L595.5 108.1 L597.0 107.6 L598.5 108.9 L600.0 108.8 L601.5 109.0 L603.0 109.7 L604.5 110.5 L606.0 110.1 L607.5 110.3 L609.0 111.2 L610.5 111.2 L612.0 111.4 L613.5 111.8 L615.0 112.0 L616.5 112.5 L618.0 112.9 L619.5 113.3 L621.0 114.1 L622.5 113.9 L624.0 114.5 L625.5 113.9 L627.0 113.8 L628.5 113.2 L630.0 113.2 L631.5 112.7 L633.0 113.3 L634.5 112.3 L636.0 111.1 L637.5 110.7 L639.0 110.5 L640.5 108.7 L642.0 109.1 L643.5 108.1 L645.0 107.7 L646.5 108.2 L648.0 107.8 L649.5 108.1 L651.0 108.4 L652.5 114.3 L654.0 113.4 L655.5 113.9 L657.0 113.7 L658.5 113.7 L660.0 113.4 L661.5 113.3 L663.0 113.2 L664.5 113.5 L666.0 113.6 L667.5 114.7 L669.0 114.3 L670.5 114.4 L672.0 114.5 L673.5 115.6 L675.0 115.8 L676.5 115.7 L678.0 115.4 L679.5 115.5 L681.0 115.8 L682.5 116.3 L684.0 116.3 L685.5 116.9 L687.0 117.2 L688.5 118.6 L690.0 119.1 L691.5 119.1 L693.0 118.8 L694.5 119.8 L696.0 119.1 L697.5 119.2 L699.0 118.9 L700.5 119.5 L702.0 119.7 L703.5 120.5 L705.0 121.0 L706.5 122.2 L708.0 122.4 L709.5 123.6 L711.0 124.2 L712.5 124.9 L714.0 124.8 L715.5 125.0 L717.0 125.7 L718.5 125.9 L720.0 126.6 L721.5 126.8 L723.0 127.5 L724.5 127.8 L726.0 128.3 L727.5 129.0 L729.0 128.8 L730.5 129.2 L732.0 130.4 L733.5 129.3 L735.0 130.0 L736.5 129.9 L738.0 129.1 L739.5 130.0 L741.0 130.0 L742.5 129.7 L744.0 129.8 L745.5 129.9 L747.0 129.1 L748.5 129.5 L750.0 129.5 L751.5 129.9 L753.0 129.9 L754.5 129.9 L756.0 129.6 L757.5 128.7 L759.0 127.2 L760.5 126.0 L762.0 124.1 L763.5 122.6 L765.0 122.1 L766.5 121.7 L768.0 120.7 L769.5 120.9 L771.0 120.3 L772.5 120.1 L774.0 119.9 L775.5 119.7 L777.0 119.2 L778.5 118.4 L780.0 119.1 L781.5 118.8 L783.0 118.2 L784.5 118.4 L786.0 118.8 L787.5 118.3 L789.0 119.3 L790.5 118.9 L792.0 118.8 L793.5 119.3 L795.0 120.0 L796.5 119.6 L798.0 120.4 L799.5 120.9 L801.0 120.5 L802.5 120.7 L804.0 121.2 L805.5 121.8 L807.0 122.3 L808.5 122.5 L810.0 122.9 L811.5 122.6 L813.0 123.0 L814.5 123.5 L816.0 124.5 L817.5 124.3 L819.0 125.0 L820.5 124.7 L822.0 123.9 L823.5 123.2 L825.0 123.8 L826.5 123.9 L828.0 124.0 L829.5 123.6 L831.0 124.0 L832.5 124.1 L834.0 124.2 L835.5 125.5 L837.0 126.2 L838.5 125.1 L840.0 125.8 L841.5 125.5 L843.0 124.0 L844.5 124.2 L846.0 124.2 L847.5 124.1 L849.0 123.1 L850.5 122.6 L852.0 122.3 L853.5 122.8 L855.0 121.7 L856.5 122.0 L858.0 121.3 L859.5 121.6 L861.0 122.0 L862.5 120.9 L864.0 121.6 L865.5 121.0 L867.0 121.4 L868.5 121.1 L870.0 120.5 L871.5 121.3 L873.0 120.8 L874.5 120.2 L876.0 120.2 L877.5 120.7 L879.0 120.5 L880.5 120.3 L882.0 120.0 L883.5 120.1 L885.0 120.0 L886.5 120.5 L888.0 119.4 L889.5 120.2 L891.0 120.2 L892.5 119.2 L894.0 118.9 L895.5 117.3 L897.0 116.2 L898.5 115.2 L900.0 115.0 L901.5 114.7 L903.0 115.2 L904.5 114.4 L906.0 113.8 L907.5 113.6 L909.0 112.7 L910.5 111.7 L912.0 111.8 L913.5 112.8 L915.0 112.2 L916.5 113.0 L918.0 112.5 L919.5 112.8 L921.0 113.4 L922.5 113.3 L924.0 113.8 L925.5 114.7 L927.0 114.6 L928.5 114.4 L930.0 114.0 L931.5 114.3 L933.0 114.2 L934.5 113.6 L936.0 113.7 L937.5 112.8 L939.0 113.5 L940.5 113.0 L942.0 113.3 L943.5 113.0 L945.0 112.5 L946.5 112.1 L948.0 113.0 L949.5 112.0 L951.0 112.3 L952.5 112.0 L954.0 112.0 L955.5 112.5 L957.0 112.8 L958.5 111.9 L960.0 112.4 L961.5 112.0 L963.0 112.3 L964.5 112.1 L966.0 111.8 L967.5 111.8 L969.0 111.8 L970.5 112.7" stroke="#ff0000" stroke-width="1" fill="none"/>
<path d="M70.5 459.5 L72.0 459.2 L73.5 459.9 L74.6 458.5 L75.7 459.0 L76.5 461.5 L77.2 456.9 L78.7 468.7 L79.5 469.5 L80.9 469.5 L82.2 468.6 L83.6 469.4 L85.0 468.6 L86.3 469.5 L87.7 469.5 L89.2 458.7 L90.7 454.9 L91.8 457.1 L93.0 458.1 L94.5 456.2 L96.0 452.6 L97.5 450.3 L98.8 451.6 L100.1 448.9 L101.4 448.7 L102.7 448.2 L104.2 447.7 L105.7 449.8 L107.2 450.1 L108.7 452.1 L110.0 452.3 L111.3 454.3 L112.7 455.2 L114.0 457.3 L115.5 453.5 L117.0 449.8 L118.1 455.7 L119.2 458.7 L120.5 456.4 L121.8 454.2 L123.2 450.9 L124.5 448.9 L126.0 448.4 L127.5 446.8 L129.0 451.4 L130.5 451.8 L132.0 454.5 L133.5 453.6 L135.0 456.9 L136.5 457.4 L138.0 456.2 L139.5 459.3 L141.0 464.3 L142.5 463.1 L144.0 465.6 L145.5 463.8 L146.7 460.5 L148.0 460.7 L149.2 459.3 L150.5 456.9 L151.8 455.8 L153.2 456.4 L154.5 458.6 L156.0 458.5 L157.5 456.7 L159.0 456.0 L160.5 454.1 L162.0 452.7 L163.1 450.4 L164.2 442.7 L165.3 437.8 L166.5 431.0 L167.6 440.5 L168.7 453.1 L169.8 444.0 L171.0 439.3 L172.2 434.7 L173.5 433.4 L174.7 430.1 L176.2 437.0 L177.7 446.6 L178.8 442.6 L180.0 437.2 L181.5 444.4 L183.0 446.5 L184.5 444.7 L186.0 444.0 L187.5 440.6 L189.0 435.9 L190.5 437.0 L192.0 434.9 L193.5 436.0 L195.0 439.1 L196.5 436.6 L198.0 435.7 L199.1 437.8 L200.2 440.9 L201.5 440.6 L202.8 437.0 L204.2 436.2 L205.5 433.0 L207.0 433.7 L208.5 436.0 L209.6 437.1 L210.7 440.5 L212.2 443.7 L213.7 443.1 L215.2 445.0 L216.7 450.1 L218.2 445.6 L219.7 439.2 L221.2 440.0 L222.7 443.2 L224.2 445.0 L225.5 440.7 L226.7 442.3 L228.0 440.7 L229.5 442.0 L231.0 443.7 L232.5 437.9 L234.0 433.2 L235.5 443.2 L237.0 446.7 L238.1 444.8 L239.2 439.2 L240.7 435.9 L242.2 429.4 L243.3 431.5 L244.5 434.4 L246.0 429.9 L247.1 435.5 L248.2 444.4 L249.3 443.8 L250.5 443.1 L251.7 438.9 L253.0 434.4 L254.2 433.7 L255.3 434.6 L256.5 437.6 L258.0 438.2 L259.5 438.5 L261.0 438.9 L262.5 441.4 L264.0 444.2 L265.5 447.0 L267.0 447.2 L268.5 450.1 L270.0 448.5 L271.5 445.1 L273.0 451.0 L274.5 458.3 L275.8 455.0 L277.1 450.4 L278.4 447.2 L279.7 444.3 L280.9 449.7 L282.0 450.8 L283.1 448.9 L284.2 442.1 L285.7 449.8 L287.2 454.4 L288.4 452.8 L289.5 448.5 L291.0 456.4 L292.5 458.0 L294.0 462.5 L295.5 465.9 L297.0 463.8 L298.5 460.4 L300.0 457.5 L301.2 461.4 L302.5 465.4 L303.7 466.6 L305.0 465.4 L306.2 463.8 L307.5 461.2 L309.0 461.6 L310.5 465.4 L312.0 468.0 L313.5 467.3 L315.0 468.1 L316.5 467.7 L318.0 469.0 L319.5 466.7 L321.0 462.2 L322.5 462.0 L324.0 461.0 L325.5 463.5 L327.0 465.9 L328.5 465.0 L330.0 466.8 L331.5 466.6 L333.0 466.5 L334.5 468.6 L336.0 462.2 L337.5 461.5 L339.0 455.2 L340.5 454.1 L342.0 456.4 L343.5 458.2 L345.0 462.8 L346.5 463.2 L348.0 464.9 L349.5 467.4 L351.0 463.9 L352.5 462.0 L354.0 462.3 L355.5 462.9 L357.0 460.2 L358.5 459.2 L360.0 463.6 L361.5 464.1 L363.0 464.8 L364.5 466.0 L366.0 463.2 L367.5 463.9 L369.0 461.5 L370.5 462.9 L372.0 464.9 L373.5 465.9 L375.0 464.0 L376.5 460.3 L378.0 459.3 L379.5 461.3 L381.0 462.4 L382.5 465.7 L383.6 464.0 L384.7 461.1 L386.2 449.0 L387.7 452.0 L389.2 451.3 L390.4 450.1 L391.5 450.5 L392.7 453.1 L394.0 456.1 L395.2 460.2 L396.7 459.5 L398.2 457.5 L399.7 455.3 L401.0 457.9 L402.4 459.0 L403.7 457.5 L405.0 456.5 L406.5 453.0 L408.0 453.0 L409.1 448.9 L410.2 450.8 L411.5 450.3 L412.7 449.2 L414.0 451.2 L415.5 450.8 L417.0 454.0 L418.5 458.0 L420.0 454.4 L421.5 455.8 L422.7 453.2 L424.0 452.5 L425.2 451.9 L426.5 453.0 L427.7 451.0 L429.0 450.5 L430.5 455.9 L432.0 461.7 L433.5 465.1 L435.0 466.7 L436.5 467.5 L438.0 467.7 L439.5 465.6 L441.0 464.0 L442.5 464.9 L444.0 467.1 L445.5 466.2 L447.0 467.8 L448.5 468.3 L450.0 469.5 L451.5 469.4 L453.0 469.5 L454.5 469.5 L456.0 469.1 L457.5 469.5 L459.0 468.6 L460.5 462.8 L462.0 463.7 L463.5 461.4 L465.0 457.5 L466.1 456.2 L467.2 454.2 L468.4 461.0 L469.5 464.5 L471.0 465.5 L472.5 466.9 L474.0 466.7 L475.5 467.5 L477.0 466.8 L478.5 468.8 L480.0 468.3 L481.5 468.4 L483.0 466.9 L484.5 464.2 L486.0 462.5 L487.5 458.6 L489.0 463.9 L490.5 466.9 L492.0 469.2 L493.5 469.5 L495.0 466.7 L496.5 460.9 L498.0 459.3 L499.5 455.1 L501.0 454.6 L502.5 455.0 L504.0 458.0 L505.5 459.9 L506.7 458.5 L508.0 455.2 L509.2 451.1 L510.7 458.7 L512.2 460.3 L513.5 462.4 L514.7 459.2 L516.0 459.0 L517.2 459.9 L518.5 456.3 L519.7 455.3 L520.9 460.2 L522.0 464.4 L523.5 460.4 L524.7 461.3 L526.0 463.8 L527.2 463.5 L528.5 463.8 L529.7 458.8 L531.0 457.9 L532.5 462.3 L534.0 464.6 L535.5 469.5 L537.0 467.0 L538.5 464.3 L540.0 463.4 L541.5 463.0 L543.0 462.7 L544.5 464.3 L546.0 467.3 L547.5 468.8 L548.8 466.2 L550.1 469.0 L551.4 469.5 L552.7 468.1 L554.0 465.3 L555.2 460.8 L556.5 459.1 L557.8 457.7 L559.1 456.8 L560.4 453.1 L561.7 455.6 L563.2 458.3 L564.5 459.1 L565.7 461.9 L567.0 462.3 L568.5 457.7 L570.0 454.2 L571.5 447.5 L573.0 451.3 L574.5 452.7 L576.0 451.1 L577.5 447.2 L579.0 443.1 L580.5 442.4 L582.0 439.5 L583.5 439.2 L585.0 427.3 L586.5 429.9 L588.0 430.4 L589.2 430.8 L590.5 431.3 L591.7 434.0 L592.9 428.5 L594.0 418.5 L595.5 425.4 L597.0 426.6 L598.5 431.5 L599.6 429.8 L600.7 429.7 L602.2 431.6 L603.7 435.1 L604.9 434.3 L606.0 430.4 L607.1 431.4 L608.2 427.5 L609.4 435.0 L610.5 440.0 L612.0 438.3 L613.5 438.1 L614.7 440.7 L616.0 443.5 L617.2 446.7 L618.7 447.1 L620.2 445.6 L621.7 449.6 L623.2 455.0 L624.7 458.8 L626.0 456.1 L627.2 455.1 L628.5 451.9 L630.0 449.9 L631.5 444.4 L633.0 443.5 L634.5 440.7 L636.0 438.1 L637.5 437.0 L639.0 438.2 L640.5 441.9 L641.6 436.5 L642.7 437.0 L643.9 442.9 L645.0 446.2 L646.5 440.9 L648.0 437.1 L649.5 429.5 L650.7 423.4 L652.0 420.8 L653.2 413.7 L654.5 422.7 L655.7 427.5 L657.0 436.1 L658.5 428.9 L659.6 431.2 L660.7 436.8 L662.2 414.7 L663.5 421.6 L664.7 427.9 L666.0 430.5 L667.1 427.5 L668.2 424.0 L669.7 444.7 L671.2 441.7 L672.7 436.0 L673.9 432.9 L675.0 430.4 L676.2 429.1 L677.5 430.2 L678.7 429.1 L679.9 433.4 L681.0 435.8 L682.1 432.6 L683.2 429.3 L684.7 439.4 L686.2 437.0 L687.7 433.7 L689.2 427.4 L690.5 434.2 L691.7 444.8 L693.0 449.8 L694.5 447.6 L696.0 442.3 L697.5 439.4 L699.0 436.9 L700.5 433.9 L701.6 439.9 L702.7 442.8 L703.9 437.7 L705.0 430.4 L706.3 426.6 L707.6 426.6 L708.9 426.6 L710.2 424.1 L711.7 431.3 L713.2 439.2 L714.7 448.6 L715.9 439.1 L717.0 435.1 L718.3 431.9 L719.6 428.7 L720.9 426.5 L722.2 422.7 L723.4 431.6 L724.5 442.1 L726.0 440.6 L727.5 441.4 L729.0 442.7 L730.5 442.5 L732.0 447.1 L733.3 440.7 L734.6 435.0 L735.9 429.3 L737.2 421.8 L738.5 427.7 L739.9 431.6 L741.2 434.8 L742.5 439.1 L743.6 434.6 L744.7 428.6 L746.2 433.6 L747.7 434.8 L749.2 439.6 L750.7 443.9 L752.2 438.3 L753.7 435.9 L755.2 438.9 L756.7 440.7 L758.0 434.6 L759.4 433.0 L760.7 427.4 L762.0 421.6 L763.5 429.1 L765.0 435.0 L766.5 441.1 L768.0 432.3 L769.5 426.5 L770.6 417.9 L771.7 411.0 L772.9 419.9 L774.0 429.4 L775.5 422.9 L777.0 422.7 L778.5 430.0 L780.0 424.3 L781.5 421.1 L783.0 423.4 L784.5 427.7 L786.0 432.2 L787.2 427.6 L788.5 424.7 L789.7 423.8 L791.0 428.6 L792.4 434.6 L793.7 442.7 L795.0 447.3 L796.1 443.3 L797.2 436.3 L798.5 441.3 L799.9 442.7 L801.2 449.1 L802.5 454.0 L804.0 446.7 L805.3 452.1 L806.6 450.9 L807.9 454.0 L809.2 454.7 L810.5 454.5 L811.9 453.4 L813.2 449.7 L814.5 451.8 L816.0 451.4 L817.5 453.6 L819.0 455.6 L820.5 451.0 L821.7 452.9 L823.0 456.6 L824.2 458.4 L825.7 459.2 L827.2 462.9 L828.7 463.4 L830.0 461.0 L831.2 460.7 L832.5 458.7 L833.6 461.7 L834.7 466.7 L836.2 462.3 L837.7 461.3 L839.2 463.0 L840.6 460.1 L842.0 463.7 L843.4 463.4 L844.7 459.8 L846.1 463.0 L847.5 460.9 L849.0 458.1 L850.1 463.1 L851.2 463.2 L852.7 462.1 L854.1 465.1 L855.4 465.6 L856.8 465.9 L858.1 469.3 L859.5 469.5 L861.0 468.6 L862.5 466.2 L864.0 467.7 L865.5 467.2 L867.0 466.3 L868.5 465.9 L870.0 468.0 L871.5 466.5 L873.0 465.8 L874.5 464.7 L876.0 461.8 L877.1 461.4 L878.2 463.0 L879.5 463.9 L880.7 466.8 L882.0 467.3 L883.5 468.8 L885.0 468.1 L886.5 466.8 L888.0 464.4 L889.5 463.5 L891.0 465.4 L892.5 463.8 L894.0 463.9 L895.5 463.6 L897.0 464.0 L898.5 466.4 L899.7 465.7 L901.0 465.6 L902.2 465.5 L903.7 466.8 L905.2 465.3 L906.6 465.2 L908.0 467.9 L909.4 467.4 L910.7 467.0 L912.1 463.4 L913.5 463.2 L915.0 461.1 L916.5 458.7 L918.0 460.6 L919.5 459.6 L921.0 460.6 L922.5 458.0 L924.0 457.3 L925.5 463.8 L927.0 467.4 L928.5 468.3 L930.0 467.8 L931.5 468.8 L933.0 468.3 L934.5 465.9 L936.0 464.5 L937.2 463.9 L938.5 459.8 L939.7 459.0 L941.1 462.8 L942.4 463.1 L943.8 464.7 L945.1 463.5 L946.5 465.4 L947.8 465.7 L949.1 468.8 L950.4 468.0 L951.7 469.5 L953.1 469.5 L954.4 469.1 L955.8 469.5 L957.1 469.5 L958.5 469.5 L960.0 468.8 L961.5 467.5 L963.0 466.2 L964.5 469.1 L966.0 465.7 L967.5 465.5 L969.0 468.2 L970.5 468.6" stroke="#ff0000" stroke-width="1" fill="none"/>
<path d="M70.5 469.5 H970.5" stroke="#000" stroke-width="1"/>
</svg></body></html>
